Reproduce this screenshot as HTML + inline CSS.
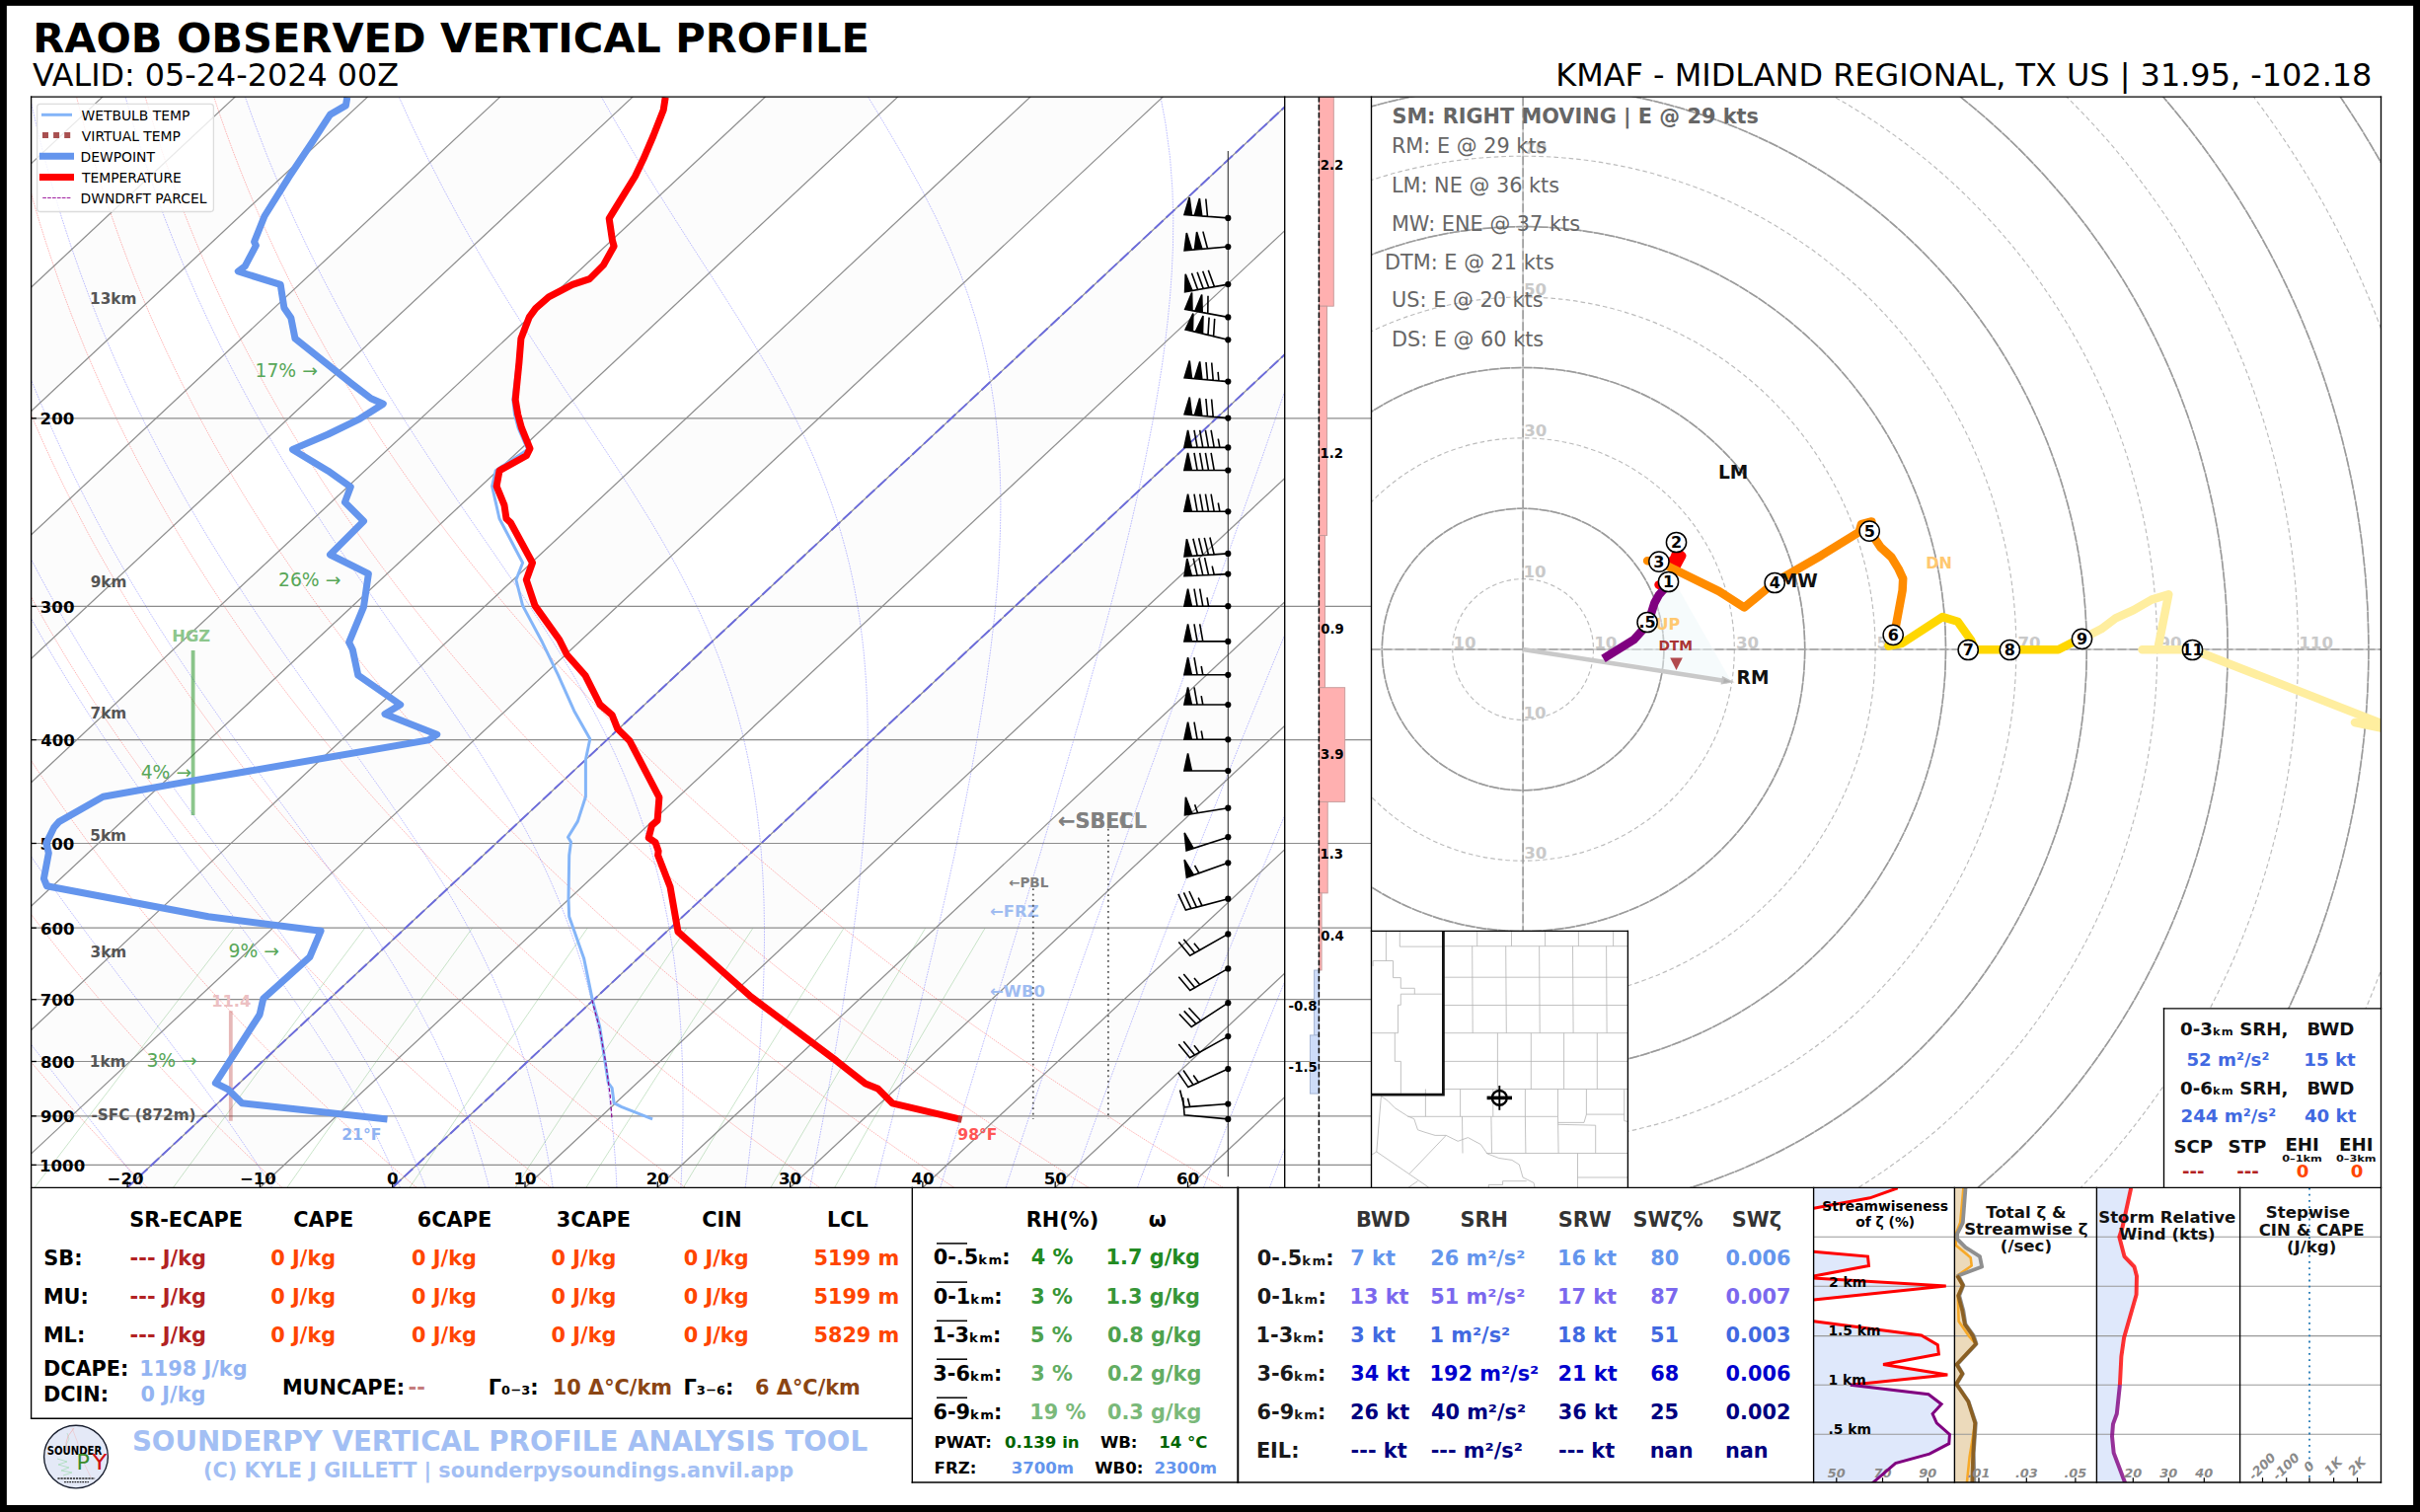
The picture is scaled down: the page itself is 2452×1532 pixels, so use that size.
<!DOCTYPE html>
<html lang="en"><head><meta charset="utf-8"><title>RAOB Observed Vertical Profile</title>
<style>html,body{margin:0;padding:0;background:#000;}svg{display:block;}</style></head>
<body>
<svg width="2452" height="1532" viewBox="0 0 2452 1532" font-family="'DejaVu Sans','Liberation Sans',sans-serif">
<defs>
<clipPath id="cskew"><rect x="31.6" y="97.9" width="1270.1000000000001" height="1105.3999999999999"/></clipPath>
<clipPath id="comega"><rect x="1301.7" y="97.9" width="87.79999999999995" height="1105.3999999999999"/></clipPath>
<clipPath id="chodo"><rect x="1389.5" y="98.3" width="1023.0" height="1105.0"/></clipPath>
<clipPath id="cmap"><rect x="1389.5" y="943.3" width="260" height="260"/></clipPath>
<clipPath id="cp1"><rect x="1837.6" y="1203.5" width="142.80000000000018" height="298.5"/></clipPath>
<clipPath id="cp2"><rect x="1980.4" y="1203.5" width="144.0" height="298.5"/></clipPath>
<clipPath id="cp3"><rect x="2124.4" y="1203.5" width="145.19999999999982" height="298.5"/></clipPath>
<clipPath id="cp4"><rect x="2269.6" y="1203.5" width="142.9000000000001" height="298.5"/></clipPath>
</defs>
<rect x="0" y="0" width="2452" height="1532" fill="#000"/>
<rect x="6.85" y="5.85" width="2438.25" height="1519.15" fill="#fff"/>
<text x="33.2" y="52.8" font-size="41.6" fill="#000" font-weight="bold">RAOB OBSERVED VERTICAL PROFILE</text>
<text x="33.0" y="86.9" font-size="31.8" fill="#000">VALID: 05-24-2024 00Z</text>
<text x="2403.4" y="87.2" font-size="31.92" fill="#000" text-anchor="end">KMAF - MIDLAND REGIONAL, TX US | 31.95, -102.18</text>
<g clip-path="url(#cskew)">
<polygon points="-945.3,1203.3 238.5,97.9 372.8,97.9 -811.0,1203.3" fill="#fcfcfc"/>
<polygon points="-676.7,1203.3 507.1,97.9 641.4,97.9 -542.4,1203.3" fill="#fcfcfc"/>
<polygon points="-408.1,1203.3 775.7,97.9 910.0,97.9 -273.8,1203.3" fill="#fcfcfc"/>
<polygon points="-139.5,1203.3 1044.3,97.9 1178.6,97.9 -5.2,1203.3" fill="#fcfcfc"/>
<polygon points="129.1,1203.3 1312.9,97.9 1447.2,97.9 263.4,1203.3" fill="#fcfcfc"/>
<polygon points="397.7,1203.3 1581.5,97.9 1715.8,97.9 532.0,1203.3" fill="#fcfcfc"/>
<polygon points="666.3,1203.3 1850.1,97.9 1984.4,97.9 800.6,1203.3" fill="#fcfcfc"/>
<polygon points="934.9,1203.3 2118.7,97.9 2253.0,97.9 1069.2,1203.3" fill="#fcfcfc"/>
<polyline points="13.4,1203.3 -3.4,1184.9 -19.9,1166.5 -35.9,1148.0 -51.5,1129.6 -66.8,1111.2 -81.6,1092.8 -96.1,1074.3 -110.1,1055.9 -123.8,1037.5 -137.2,1019.1 -150.1,1000.6 -162.7,982.2 -175.0,963.8 -186.9,945.4 -198.4,926.9 -209.6,908.5 -220.4,890.1 -230.9,871.7 -241.1,853.3 -250.9,834.8 -260.4,816.4 -269.6,798.0 -278.4,779.6 -287.0,761.1 -295.2,742.7 -303.1,724.3 -310.7,705.9 -318.0,687.4 -325.0,669.0 -331.7,650.6 -338.1,632.2 -344.2,613.8 -350.0,595.3 -355.6,576.9 -360.8,558.5 -365.8,540.1 -370.5,521.6 -374.9,503.2 -379.1,484.8 -383.0,466.4 -386.6,447.9 -390.0,429.5 -393.1,411.1 -396.0,392.7 -398.6,374.2 -401.0,355.8 -403.1,337.4 -405.0,319.0 -406.6,300.6 -408.0,282.1 -409.1,263.7 -410.1,245.3 -410.8,226.9 -411.2,208.4 -411.5,190.0 -411.5,171.6 -411.3,153.2 -410.9,134.7 -410.3,116.3 -409.4,97.9" fill="none" stroke="#ff0000" stroke-width="0.8" stroke-opacity="0.36" stroke-dasharray="1.6 0.9"/>
<polyline points="149.6,1203.3 131.2,1184.9 113.3,1166.5 95.8,1148.0 78.7,1129.6 62.0,1111.2 45.7,1092.8 29.9,1074.3 14.4,1055.9 -0.7,1037.5 -15.4,1019.1 -29.7,1000.6 -43.7,982.2 -57.2,963.8 -70.4,945.4 -83.3,926.9 -95.7,908.5 -107.8,890.1 -119.6,871.7 -131.0,853.3 -142.0,834.8 -152.7,816.4 -163.1,798.0 -173.2,779.6 -182.9,761.1 -192.2,742.7 -201.3,724.3 -210.0,705.9 -218.4,687.4 -226.5,669.0 -234.3,650.6 -241.8,632.2 -249.0,613.8 -255.9,595.3 -262.5,576.9 -268.8,558.5 -274.8,540.1 -280.5,521.6 -285.9,503.2 -291.1,484.8 -296.0,466.4 -300.6,447.9 -304.9,429.5 -309.0,411.1 -312.8,392.7 -316.3,374.2 -319.6,355.8 -322.6,337.4 -325.4,319.0 -327.9,300.6 -330.2,282.1 -332.2,263.7 -334.0,245.3 -335.5,226.9 -336.8,208.4 -337.9,190.0 -338.8,171.6 -339.4,153.2 -339.8,134.7 -339.9,116.3 -339.9,97.9" fill="none" stroke="#ff0000" stroke-width="0.8" stroke-opacity="0.36" stroke-dasharray="1.6 0.9"/>
<polyline points="285.8,1203.3 265.9,1184.9 246.5,1166.5 227.5,1148.0 208.9,1129.6 190.8,1111.2 173.1,1092.8 155.8,1074.3 138.9,1055.9 122.4,1037.5 106.3,1019.1 90.7,1000.6 75.4,982.2 60.5,963.8 46.0,945.4 31.9,926.9 18.1,908.5 4.8,890.1 -8.2,871.7 -20.9,853.3 -33.2,834.8 -45.1,816.4 -56.7,798.0 -67.9,779.6 -78.8,761.1 -89.3,742.7 -99.5,724.3 -109.4,705.9 -118.9,687.4 -128.1,669.0 -137.0,650.6 -145.6,632.2 -153.8,613.8 -161.8,595.3 -169.4,576.9 -176.7,558.5 -183.8,540.1 -190.5,521.6 -196.9,503.2 -203.1,484.8 -209.0,466.4 -214.5,447.9 -219.8,429.5 -224.8,411.1 -229.6,392.7 -234.0,374.2 -238.2,355.8 -242.2,337.4 -245.8,319.0 -249.2,300.6 -252.4,282.1 -255.3,263.7 -257.9,245.3 -260.3,226.9 -262.4,208.4 -264.4,190.0 -266.0,171.6 -267.4,153.2 -268.6,134.7 -269.6,116.3 -270.3,97.9" fill="none" stroke="#ff0000" stroke-width="0.8" stroke-opacity="0.36" stroke-dasharray="1.6 0.9"/>
<polyline points="422.0,1203.3 400.6,1184.9 379.6,1166.5 359.2,1148.0 339.1,1129.6 319.6,1111.2 300.4,1092.8 281.7,1074.3 263.4,1055.9 245.6,1037.5 228.1,1019.1 211.1,1000.6 194.5,982.2 178.2,963.8 162.4,945.4 147.0,926.9 132.0,908.5 117.3,890.1 103.1,871.7 89.2,853.3 75.7,834.8 62.6,816.4 49.8,798.0 37.4,779.6 25.3,761.1 13.6,742.7 2.3,724.3 -8.7,705.9 -19.4,687.4 -29.7,669.0 -39.7,650.6 -49.3,632.2 -58.7,613.8 -67.7,595.3 -76.3,576.9 -84.7,558.5 -92.8,540.1 -100.5,521.6 -108.0,503.2 -115.1,484.8 -121.9,466.4 -128.5,447.9 -134.7,429.5 -140.7,411.1 -146.4,392.7 -151.7,374.2 -156.9,355.8 -161.7,337.4 -166.3,319.0 -170.5,300.6 -174.6,282.1 -178.3,263.7 -181.8,245.3 -185.1,226.9 -188.1,208.4 -190.8,190.0 -193.3,171.6 -195.5,153.2 -197.5,134.7 -199.2,116.3 -200.7,97.9" fill="none" stroke="#ff0000" stroke-width="0.8" stroke-opacity="0.36" stroke-dasharray="1.6 0.9"/>
<polyline points="558.1,1203.3 535.2,1184.9 512.8,1166.5 490.9,1148.0 469.4,1129.6 448.3,1111.2 427.8,1092.8 407.6,1074.3 387.9,1055.9 368.7,1037.5 349.9,1019.1 331.5,1000.6 313.5,982.2 296.0,963.8 278.9,945.4 262.1,926.9 245.8,908.5 229.9,890.1 214.4,871.7 199.3,853.3 184.6,834.8 170.2,816.4 156.2,798.0 142.6,779.6 129.4,761.1 116.6,742.7 104.1,724.3 91.9,705.9 80.2,687.4 68.7,669.0 57.7,650.6 46.9,632.2 36.5,613.8 26.5,595.3 16.7,576.9 7.3,558.5 -1.8,540.1 -10.5,521.6 -19.0,503.2 -27.1,484.8 -34.9,466.4 -42.4,447.9 -49.6,429.5 -56.5,411.1 -63.1,392.7 -69.5,374.2 -75.5,355.8 -81.2,337.4 -86.7,319.0 -91.9,300.6 -96.8,282.1 -101.4,263.7 -105.7,245.3 -109.8,226.9 -113.7,208.4 -117.2,190.0 -120.5,171.6 -123.6,153.2 -126.3,134.7 -128.9,116.3 -131.2,97.9" fill="none" stroke="#ff0000" stroke-width="0.8" stroke-opacity="0.36" stroke-dasharray="1.6 0.9"/>
<polyline points="694.3,1203.3 669.9,1184.9 646.0,1166.5 622.5,1148.0 599.6,1129.6 577.1,1111.2 555.1,1092.8 533.5,1074.3 512.4,1055.9 491.8,1037.5 471.6,1019.1 451.9,1000.6 432.6,982.2 413.7,963.8 395.3,945.4 377.3,926.9 359.7,908.5 342.5,890.1 325.7,871.7 309.4,853.3 293.4,834.8 277.9,816.4 262.7,798.0 247.9,779.6 233.5,761.1 219.5,742.7 205.9,724.3 192.6,705.9 179.7,687.4 167.2,669.0 155.0,650.6 143.2,632.2 131.7,613.8 120.6,595.3 109.8,576.9 99.3,558.5 89.2,540.1 79.5,521.6 70.0,503.2 60.9,484.8 52.1,466.4 43.6,447.9 35.5,429.5 27.6,411.1 20.1,392.7 12.8,374.2 5.9,355.8 -0.8,337.4 -7.1,319.0 -13.2,300.6 -19.0,282.1 -24.5,263.7 -29.7,245.3 -34.6,226.9 -39.3,208.4 -43.6,190.0 -47.8,171.6 -51.6,153.2 -55.2,134.7 -58.5,116.3 -61.6,97.9" fill="none" stroke="#ff0000" stroke-width="0.8" stroke-opacity="0.36" stroke-dasharray="1.6 0.9"/>
<polyline points="830.5,1203.3 804.6,1184.9 779.2,1166.5 754.2,1148.0 729.8,1129.6 705.9,1111.2 682.4,1092.8 659.5,1074.3 637.0,1055.9 614.9,1037.5 593.4,1019.1 572.3,1000.6 551.7,982.2 531.5,963.8 511.7,945.4 492.4,926.9 473.5,908.5 455.1,890.1 437.1,871.7 419.5,853.3 402.3,834.8 385.5,816.4 369.1,798.0 353.2,779.6 337.6,761.1 322.4,742.7 307.7,724.3 293.3,705.9 279.2,687.4 265.6,669.0 252.3,650.6 239.4,632.2 226.9,613.8 214.7,595.3 202.9,576.9 191.4,558.5 180.3,540.1 169.5,521.6 159.0,503.2 148.9,484.8 139.1,466.4 129.7,447.9 120.6,429.5 111.8,411.1 103.3,392.7 95.1,374.2 87.2,355.8 79.7,337.4 72.4,319.0 65.5,300.6 58.8,282.1 52.5,263.7 46.4,245.3 40.6,226.9 35.1,208.4 29.9,190.0 25.0,171.6 20.3,153.2 15.9,134.7 11.8,116.3 7.9,97.9" fill="none" stroke="#ff0000" stroke-width="0.8" stroke-opacity="0.36" stroke-dasharray="1.6 0.9"/>
<polyline points="966.7,1203.3 939.2,1184.9 912.3,1166.5 885.9,1148.0 860.0,1129.6 834.6,1111.2 809.8,1092.8 785.4,1074.3 761.5,1055.9 738.1,1037.5 715.1,1019.1 692.7,1000.6 670.7,982.2 649.2,963.8 628.1,945.4 607.5,926.9 587.4,908.5 567.7,890.1 548.4,871.7 529.6,853.3 511.1,834.8 493.2,816.4 475.6,798.0 458.4,779.6 441.7,761.1 425.4,742.7 409.4,724.3 393.9,705.9 378.8,687.4 364.0,669.0 349.6,650.6 335.7,632.2 322.0,613.8 308.8,595.3 295.9,576.9 283.4,558.5 271.3,540.1 259.5,521.6 248.0,503.2 236.9,484.8 226.2,466.4 215.7,447.9 205.7,429.5 195.9,411.1 186.5,392.7 177.4,374.2 168.6,355.8 160.2,337.4 152.0,319.0 144.2,300.6 136.6,282.1 129.4,263.7 122.5,245.3 115.9,226.9 109.5,208.4 103.5,190.0 97.7,171.6 92.3,153.2 87.1,134.7 82.2,116.3 77.5,97.9" fill="none" stroke="#ff0000" stroke-width="0.8" stroke-opacity="0.36" stroke-dasharray="1.6 0.9"/>
<polyline points="1102.9,1203.3 1073.9,1184.9 1045.5,1166.5 1017.6,1148.0 990.2,1129.6 963.4,1111.2 937.1,1092.8 911.3,1074.3 886.0,1055.9 861.2,1037.5 836.9,1019.1 813.1,1000.6 789.8,982.2 766.9,963.8 744.6,945.4 722.7,926.9 701.2,908.5 680.2,890.1 659.7,871.7 639.6,853.3 620.0,834.8 600.8,816.4 582.0,798.0 563.7,779.6 545.8,761.1 528.3,742.7 511.2,724.3 494.6,705.9 478.3,687.4 462.4,669.0 447.0,650.6 431.9,632.2 417.2,613.8 402.9,595.3 389.0,576.9 375.4,558.5 362.3,540.1 349.5,521.6 337.0,503.2 324.9,484.8 313.2,466.4 301.8,447.9 290.8,429.5 280.1,411.1 269.7,392.7 259.7,374.2 250.0,355.8 240.6,337.4 231.6,319.0 222.9,300.6 214.4,282.1 206.4,263.7 198.6,245.3 191.1,226.9 183.9,208.4 177.1,190.0 170.5,171.6 164.2,153.2 158.2,134.7 152.5,116.3 147.1,97.9" fill="none" stroke="#ff0000" stroke-width="0.8" stroke-opacity="0.36" stroke-dasharray="1.6 0.9"/>
<polyline points="1239.1,1203.3 1208.6,1184.9 1178.7,1166.5 1149.3,1148.0 1120.5,1129.6 1092.2,1111.2 1064.4,1092.8 1037.2,1074.3 1010.5,1055.9 984.3,1037.5 958.7,1019.1 933.5,1000.6 908.8,982.2 884.7,963.8 861.0,945.4 837.8,926.9 815.1,908.5 792.8,890.1 771.0,871.7 749.7,853.3 728.9,834.8 708.5,816.4 688.5,798.0 669.0,779.6 649.9,761.1 631.2,742.7 613.0,724.3 595.2,705.9 577.8,687.4 560.9,669.0 544.3,650.6 528.2,632.2 512.4,613.8 497.0,595.3 482.1,576.9 467.5,558.5 453.3,540.1 439.4,521.6 426.0,503.2 412.9,484.8 400.2,466.4 387.8,447.9 375.8,429.5 364.2,411.1 352.9,392.7 342.0,374.2 331.3,355.8 321.1,337.4 311.1,319.0 301.5,300.6 292.3,282.1 283.3,263.7 274.7,245.3 266.3,226.9 258.3,208.4 250.6,190.0 243.2,171.6 236.1,153.2 229.3,134.7 222.8,116.3 216.6,97.9" fill="none" stroke="#ff0000" stroke-width="0.8" stroke-opacity="0.36" stroke-dasharray="1.6 0.9"/>
<polyline points="10.9,1203.3 8.0,1199.7 5.1,1196.1 2.2,1192.4 -0.8,1188.8 -3.8,1185.0 -6.7,1181.3 -9.8,1177.5 -12.8,1173.7 -15.9,1169.9 -18.9,1166.0 -22.0,1162.2 -25.2,1158.2 -28.3,1154.3 -31.5,1150.3 -34.6,1146.2 -37.8,1142.2 -41.1,1138.1 -44.3,1134.0 -47.6,1129.8 -50.9,1125.6 -54.2,1121.3 -57.5,1117.1 -60.8,1112.7 -64.2,1108.4 -67.6,1104.0 -71.0,1099.5 -74.4,1095.0 -77.9,1090.5 -81.3,1085.9 -84.8,1081.3 -88.3,1076.6 -91.8,1071.9 -95.4,1067.2 -98.9,1062.4 -102.5,1057.5 -106.1,1052.6 -109.7,1047.6 -113.3,1042.6 -117.0,1037.5 -120.6,1032.4 -124.3,1027.2 -128.0,1022.0 -131.7,1016.7 -135.5,1011.3 -139.2,1005.9 -143.0,1000.4 -146.8,994.9 -150.6,989.3 -154.4,983.6 -158.2,977.8 -162.1,972.0 -165.9,966.1 -169.8,960.2 -173.7,954.1 -177.6,948.0 -181.5,941.8 -185.5,935.5 -189.4,929.1 -193.4,922.7 -197.4,916.1 -201.4,909.5 -205.4,902.7 -209.4,895.9 -213.4,888.9 -217.5,881.9 -221.6,874.8 -225.6,867.5 -229.7,860.1 -233.8,852.6 -237.9,845.0 -242.0,837.3 -246.2,829.4 -250.3,821.4 -254.5,813.3 -258.6,805.0 -262.8,796.5 -267.0,788.0 -271.1,779.2 -275.3,770.3 -279.5,761.2 -283.7,752.0 -287.9,742.5 -292.1,732.9 -296.3,723.0 -300.5,713.0 -304.7,702.7 -308.9,692.2 -313.1,681.4 -317.3,670.4 -321.5,659.2 -325.6,647.6 -329.8,635.8 -333.9,623.7 -338.0,611.2 -342.1,598.4 -346.2,585.3 -350.2,571.7 -354.2,557.8 -358.1,543.5 -362.0,528.7 -365.8,513.4 -369.6,497.6 -373.3,481.2 -376.9,464.3 -380.3,446.7 -383.7,428.4 -387.0,409.4 -390.1,389.6 -393.0,369.0 -395.7,347.4 -398.2,324.7 -400.4,300.9 -402.3,275.8 -403.9,249.3 -405.0,221.2 -405.6,191.4 -405.6,159.5 -404.9,125.3 -403.8,97.9" fill="none" stroke="#0000ff" stroke-width="0.8" stroke-opacity="0.33" stroke-dasharray="1.7 1.0"/>
<polyline points="144.2,1203.3 141.5,1199.7 138.8,1196.1 136.0,1192.4 133.2,1188.8 130.4,1185.0 127.5,1181.3 124.6,1177.5 121.7,1173.7 118.8,1169.9 115.8,1166.0 112.8,1162.2 109.7,1158.2 106.6,1154.3 103.5,1150.3 100.4,1146.2 97.2,1142.2 94.0,1138.1 90.8,1134.0 87.5,1129.8 84.2,1125.6 80.9,1121.3 77.5,1117.1 74.1,1112.7 70.7,1108.4 67.2,1104.0 63.7,1099.5 60.2,1095.0 56.7,1090.5 53.1,1085.9 49.5,1081.3 45.8,1076.6 42.2,1071.9 38.5,1067.2 34.7,1062.4 31.0,1057.5 27.2,1052.6 23.3,1047.6 19.5,1042.6 15.6,1037.5 11.7,1032.4 7.8,1027.2 3.8,1022.0 -0.2,1016.7 -4.2,1011.3 -8.3,1005.9 -12.3,1000.4 -16.4,994.9 -20.6,989.3 -24.7,983.6 -28.9,977.8 -33.1,972.0 -37.3,966.1 -41.6,960.2 -45.9,954.1 -50.2,948.0 -54.5,941.8 -58.9,935.5 -63.2,929.1 -67.6,922.7 -72.1,916.1 -76.5,909.5 -81.0,902.7 -85.5,895.9 -90.0,888.9 -94.5,881.9 -99.1,874.8 -103.7,867.5 -108.3,860.1 -112.9,852.6 -117.5,845.0 -122.2,837.3 -126.9,829.4 -131.6,821.4 -136.3,813.3 -141.0,805.0 -145.8,796.5 -150.6,788.0 -155.4,779.2 -160.2,770.3 -165.0,761.2 -169.8,752.0 -174.6,742.5 -179.5,732.9 -184.4,723.0 -189.3,713.0 -194.1,702.7 -199.0,692.2 -203.9,681.4 -208.9,670.4 -213.8,659.2 -218.7,647.6 -223.6,635.8 -228.5,623.7 -233.4,611.2 -238.3,598.4 -243.2,585.3 -248.0,571.7 -252.9,557.8 -257.7,543.5 -262.5,528.7 -267.2,513.4 -271.9,497.6 -276.6,481.2 -281.1,464.3 -285.7,446.7 -290.1,428.4 -294.4,409.4 -298.6,389.6 -302.7,369.0 -306.6,347.4 -310.3,324.7 -313.8,300.9 -317.0,275.8 -319.9,249.3 -322.4,221.2 -324.5,191.4 -326.1,159.5 -327.0,125.3 -327.2,97.9" fill="none" stroke="#0000ff" stroke-width="0.8" stroke-opacity="0.33" stroke-dasharray="1.7 1.0"/>
<polyline points="275.6,1203.3 273.4,1199.7 271.1,1196.1 268.8,1192.4 266.5,1188.8 264.1,1185.0 261.7,1181.3 259.3,1177.5 256.8,1173.7 254.2,1169.9 251.7,1166.0 249.1,1162.2 246.4,1158.2 243.7,1154.3 241.0,1150.3 238.2,1146.2 235.4,1142.2 232.5,1138.1 229.6,1134.0 226.7,1129.8 223.7,1125.6 220.6,1121.3 217.5,1117.1 214.4,1112.7 211.2,1108.4 208.0,1104.0 204.7,1099.5 201.4,1095.0 198.1,1090.5 194.7,1085.9 191.2,1081.3 187.7,1076.6 184.1,1071.9 180.5,1067.2 176.9,1062.4 173.2,1057.5 169.5,1052.6 165.7,1047.6 161.8,1042.6 158.0,1037.5 154.0,1032.4 150.1,1027.2 146.0,1022.0 142.0,1016.7 137.9,1011.3 133.7,1005.9 129.5,1000.4 125.2,994.9 120.9,989.3 116.6,983.6 112.2,977.8 107.8,972.0 103.3,966.1 98.8,960.2 94.2,954.1 89.6,948.0 85.0,941.8 80.3,935.5 75.6,929.1 70.8,922.7 66.0,916.1 61.2,909.5 56.3,902.7 51.4,895.9 46.4,888.9 41.4,881.9 36.4,874.8 31.3,867.5 26.2,860.1 21.1,852.6 15.9,845.0 10.7,837.3 5.4,829.4 0.2,821.4 -5.1,813.3 -10.5,805.0 -15.8,796.5 -21.2,788.0 -26.7,779.2 -32.1,770.3 -37.6,761.2 -43.1,752.0 -48.7,742.5 -54.2,732.9 -59.8,723.0 -65.5,713.0 -71.1,702.7 -76.8,692.2 -82.4,681.4 -88.2,670.4 -93.9,659.2 -99.6,647.6 -105.4,635.8 -111.1,623.7 -116.9,611.2 -122.7,598.4 -128.5,585.3 -134.3,571.7 -140.1,557.8 -145.9,543.5 -151.7,528.7 -157.4,513.4 -163.2,497.6 -168.9,481.2 -174.6,464.3 -180.2,446.7 -185.8,428.4 -191.3,409.4 -196.8,389.6 -202.1,369.0 -207.3,347.4 -212.4,324.7 -217.3,300.9 -221.9,275.8 -226.4,249.3 -230.5,221.2 -234.2,191.4 -237.5,159.5 -240.3,125.3 -241.9,97.9" fill="none" stroke="#0000ff" stroke-width="0.8" stroke-opacity="0.33" stroke-dasharray="1.7 1.0"/>
<polyline points="405.4,1203.3 403.9,1199.7 402.3,1196.1 400.7,1192.4 399.1,1188.8 397.5,1185.0 395.8,1181.3 394.1,1177.5 392.4,1173.7 390.6,1169.9 388.8,1166.0 386.9,1162.2 385.0,1158.2 383.0,1154.3 381.0,1150.3 379.0,1146.2 376.9,1142.2 374.8,1138.1 372.6,1134.0 370.4,1129.8 368.1,1125.6 365.8,1121.3 363.5,1117.1 361.0,1112.7 358.6,1108.4 356.0,1104.0 353.5,1099.5 350.8,1095.0 348.1,1090.5 345.4,1085.9 342.6,1081.3 339.7,1076.6 336.8,1071.9 333.8,1067.2 330.7,1062.4 327.6,1057.5 324.4,1052.6 321.2,1047.6 317.9,1042.6 314.5,1037.5 311.0,1032.4 307.5,1027.2 303.9,1022.0 300.3,1016.7 296.5,1011.3 292.7,1005.9 288.9,1000.4 284.9,994.9 280.9,989.3 276.8,983.6 272.6,977.8 268.4,972.0 264.1,966.1 259.7,960.2 255.2,954.1 250.7,948.0 246.1,941.8 241.4,935.5 236.7,929.1 231.8,922.7 226.9,916.1 222.0,909.5 216.9,902.7 211.8,895.9 206.6,888.9 201.4,881.9 196.0,874.8 190.6,867.5 185.2,860.1 179.7,852.6 174.1,845.0 168.4,837.3 162.7,829.4 156.9,821.4 151.1,813.3 145.2,805.0 139.2,796.5 133.2,788.0 127.1,779.2 121.0,770.3 114.8,761.2 108.5,752.0 102.2,742.5 95.9,732.9 89.5,723.0 83.1,713.0 76.6,702.7 70.0,692.2 63.5,681.4 56.8,670.4 50.2,659.2 43.5,647.6 36.7,635.8 29.9,623.7 23.1,611.2 16.3,598.4 9.4,585.3 2.5,571.7 -4.5,557.8 -11.4,543.5 -18.4,528.7 -25.4,513.4 -32.4,497.6 -39.4,481.2 -46.4,464.3 -53.4,446.7 -60.4,428.4 -67.3,409.4 -74.3,389.6 -81.1,369.0 -87.9,347.4 -94.6,324.7 -101.2,300.9 -107.6,275.8 -113.9,249.3 -119.9,221.2 -125.6,191.4 -131.0,159.5 -135.9,125.3 -139.2,97.9" fill="none" stroke="#0000ff" stroke-width="0.8" stroke-opacity="0.33" stroke-dasharray="1.7 1.0"/>
<polyline points="431.2,1203.3 429.8,1199.7 428.5,1196.1 427.1,1192.4 425.6,1188.8 424.1,1185.0 422.6,1181.3 421.1,1177.5 419.5,1173.7 417.9,1169.9 416.3,1166.0 414.6,1162.2 412.9,1158.2 411.1,1154.3 409.3,1150.3 407.4,1146.2 405.5,1142.2 403.6,1138.1 401.6,1134.0 399.6,1129.8 397.5,1125.6 395.4,1121.3 393.2,1117.1 391.0,1112.7 388.7,1108.4 386.4,1104.0 384.0,1099.5 381.6,1095.0 379.1,1090.5 376.5,1085.9 373.9,1081.3 371.3,1076.6 368.5,1071.9 365.7,1067.2 362.9,1062.4 359.9,1057.5 357.0,1052.6 353.9,1047.6 350.8,1042.6 347.6,1037.5 344.3,1032.4 341.0,1027.2 337.6,1022.0 334.1,1016.7 330.5,1011.3 326.9,1005.9 323.2,1000.4 319.4,994.9 315.5,989.3 311.6,983.6 307.5,977.8 303.4,972.0 299.2,966.1 295.0,960.2 290.6,954.1 286.2,948.0 281.7,941.8 277.1,935.5 272.4,929.1 267.7,922.7 262.8,916.1 257.9,909.5 252.9,902.7 247.8,895.9 242.6,888.9 237.4,881.9 232.1,874.8 226.7,867.5 221.2,860.1 215.7,852.6 210.0,845.0 204.3,837.3 198.6,829.4 192.7,821.4 186.8,813.3 180.8,805.0 174.7,796.5 168.6,788.0 162.4,779.2 156.2,770.3 149.9,761.2 143.5,752.0 137.0,742.5 130.5,732.9 124.0,723.0 117.4,713.0 110.7,702.7 104.0,692.2 97.2,681.4 90.4,670.4 83.5,659.2 76.6,647.6 69.6,635.8 62.6,623.7 55.6,611.2 48.5,598.4 41.4,585.3 34.2,571.7 27.0,557.8 19.8,543.5 12.5,528.7 5.2,513.4 -2.0,497.6 -9.4,481.2 -16.7,464.3 -24.0,446.7 -31.3,428.4 -38.6,409.4 -45.8,389.6 -53.0,369.0 -60.2,347.4 -67.3,324.7 -74.2,300.9 -81.1,275.8 -87.7,249.3 -94.2,221.2 -100.4,191.4 -106.3,159.5 -111.7,125.3 -115.4,97.9" fill="none" stroke="#0000ff" stroke-width="0.8" stroke-opacity="0.33" stroke-dasharray="1.7 1.0"/>
<polyline points="495.7,1203.3 494.7,1199.7 493.8,1196.1 492.8,1192.4 491.8,1188.8 490.8,1185.0 489.7,1181.3 488.6,1177.5 487.5,1173.7 486.3,1169.9 485.1,1166.0 483.9,1162.2 482.7,1158.2 481.4,1154.3 480.1,1150.3 478.7,1146.2 477.3,1142.2 475.9,1138.1 474.4,1134.0 472.9,1129.8 471.4,1125.6 469.8,1121.3 468.1,1117.1 466.5,1112.7 464.7,1108.4 463.0,1104.0 461.1,1099.5 459.3,1095.0 457.3,1090.5 455.4,1085.9 453.3,1081.3 451.2,1076.6 449.1,1071.9 446.9,1067.2 444.6,1062.4 442.3,1057.5 439.9,1052.6 437.4,1047.6 434.9,1042.6 432.3,1037.5 429.6,1032.4 426.9,1027.2 424.1,1022.0 421.2,1016.7 418.2,1011.3 415.1,1005.9 412.0,1000.4 408.8,994.9 405.5,989.3 402.1,983.6 398.6,977.8 395.0,972.0 391.3,966.1 387.5,960.2 383.7,954.1 379.7,948.0 375.6,941.8 371.5,935.5 367.2,929.1 362.8,922.7 358.4,916.1 353.8,909.5 349.1,902.7 344.3,895.9 339.4,888.9 334.4,881.9 329.3,874.8 324.0,867.5 318.7,860.1 313.3,852.6 307.7,845.0 302.1,837.3 296.3,829.4 290.5,821.4 284.5,813.3 278.4,805.0 272.3,796.5 266.0,788.0 259.6,779.2 253.2,770.3 246.6,761.2 240.0,752.0 233.2,742.5 226.4,732.9 219.5,723.0 212.5,713.0 205.4,702.7 198.2,692.2 191.0,681.4 183.6,670.4 176.2,659.2 168.8,647.6 161.2,635.8 153.6,623.7 146.0,611.2 138.2,598.4 130.4,585.3 122.6,571.7 114.7,557.8 106.7,543.5 98.7,528.7 90.7,513.4 82.6,497.6 74.5,481.2 66.3,464.3 58.1,446.7 49.9,428.4 41.7,409.4 33.5,389.6 25.3,369.0 17.1,347.4 9.0,324.7 0.9,300.9 -7.1,275.8 -14.9,249.3 -22.6,221.2 -30.1,191.4 -37.3,159.5 -44.1,125.3 -49.0,97.9" fill="none" stroke="#0000ff" stroke-width="0.8" stroke-opacity="0.33" stroke-dasharray="1.7 1.0"/>
<polyline points="560.2,1203.3 559.7,1199.7 559.1,1196.1 558.6,1192.4 558.0,1188.8 557.4,1185.0 556.7,1181.3 556.1,1177.5 555.4,1173.7 554.7,1169.9 554.0,1166.0 553.2,1162.2 552.5,1158.2 551.7,1154.3 550.9,1150.3 550.0,1146.2 549.1,1142.2 548.2,1138.1 547.3,1134.0 546.3,1129.8 545.3,1125.6 544.3,1121.3 543.3,1117.1 542.2,1112.7 541.0,1108.4 539.9,1104.0 538.6,1099.5 537.4,1095.0 536.1,1090.5 534.8,1085.9 533.4,1081.3 532.0,1076.6 530.5,1071.9 529.0,1067.2 527.4,1062.4 525.7,1057.5 524.1,1052.6 522.3,1047.6 520.5,1042.6 518.7,1037.5 516.7,1032.4 514.8,1027.2 512.7,1022.0 510.6,1016.7 508.4,1011.3 506.1,1005.9 503.7,1000.4 501.3,994.9 498.8,989.3 496.2,983.6 493.5,977.8 490.7,972.0 487.9,966.1 484.9,960.2 481.8,954.1 478.7,948.0 475.4,941.8 472.0,935.5 468.5,929.1 464.9,922.7 461.2,916.1 457.3,909.5 453.4,902.7 449.3,895.9 445.0,888.9 440.7,881.9 436.2,874.8 431.6,867.5 426.8,860.1 421.9,852.6 416.8,845.0 411.6,837.3 406.3,829.4 400.8,821.4 395.2,813.3 389.4,805.0 383.5,796.5 377.4,788.0 371.2,779.2 364.8,770.3 358.3,761.2 351.6,752.0 344.8,742.5 337.9,732.9 330.8,723.0 323.6,713.0 316.2,702.7 308.8,692.2 301.2,681.4 293.4,670.4 285.6,659.2 277.6,647.6 269.5,635.8 261.3,623.7 253.0,611.2 244.7,598.4 236.2,585.3 227.6,571.7 218.9,557.8 210.1,543.5 201.3,528.7 192.3,513.4 183.3,497.6 174.2,481.2 165.1,464.3 155.9,446.7 146.6,428.4 137.3,409.4 128.0,389.6 118.6,369.0 109.2,347.4 99.8,324.7 90.5,300.9 81.2,275.8 71.9,249.3 62.7,221.2 53.7,191.4 44.9,159.5 36.4,125.3 30.2,97.9" fill="none" stroke="#0000ff" stroke-width="0.8" stroke-opacity="0.33" stroke-dasharray="1.7 1.0"/>
<polyline points="624.9,1203.3 624.8,1199.7 624.6,1196.1 624.4,1192.4 624.2,1188.8 624.0,1185.0 623.8,1181.3 623.5,1177.5 623.3,1173.7 623.0,1169.9 622.7,1166.0 622.4,1162.2 622.1,1158.2 621.8,1154.3 621.5,1150.3 621.1,1146.2 620.7,1142.2 620.3,1138.1 619.9,1134.0 619.5,1129.8 619.0,1125.6 618.5,1121.3 618.0,1117.1 617.5,1112.7 616.9,1108.4 616.4,1104.0 615.8,1099.5 615.1,1095.0 614.5,1090.5 613.8,1085.9 613.0,1081.3 612.3,1076.6 611.5,1071.9 610.7,1067.2 609.8,1062.4 608.9,1057.5 608.0,1052.6 607.0,1047.6 606.0,1042.6 604.9,1037.5 603.8,1032.4 602.6,1027.2 601.4,1022.0 600.1,1016.7 598.8,1011.3 597.4,1005.9 596.0,1000.4 594.5,994.9 592.9,989.3 591.3,983.6 589.6,977.8 587.8,972.0 585.9,966.1 584.0,960.2 581.9,954.1 579.8,948.0 577.6,941.8 575.3,935.5 572.9,929.1 570.4,922.7 567.8,916.1 565.1,909.5 562.2,902.7 559.3,895.9 556.2,888.9 553.0,881.9 549.6,874.8 546.1,867.5 542.5,860.1 538.7,852.6 534.7,845.0 530.6,837.3 526.3,829.4 521.8,821.4 517.2,813.3 512.3,805.0 507.3,796.5 502.1,788.0 496.7,779.2 491.0,770.3 485.2,761.2 479.2,752.0 473.0,742.5 466.5,732.9 459.8,723.0 453.0,713.0 445.9,702.7 438.6,692.2 431.1,681.4 423.3,670.4 415.4,659.2 407.3,647.6 398.9,635.8 390.4,623.7 381.7,611.2 372.8,598.4 363.7,585.3 354.5,571.7 345.1,557.8 335.5,543.5 325.8,528.7 315.9,513.4 305.9,497.6 295.8,481.2 285.5,464.3 275.1,446.7 264.6,428.4 254.1,409.4 243.4,389.6 232.6,369.0 221.8,347.4 210.9,324.7 199.9,300.9 189.0,275.8 178.0,249.3 167.0,221.2 156.2,191.4 145.4,159.5 134.8,125.3 127.0,97.9" fill="none" stroke="#0000ff" stroke-width="0.8" stroke-opacity="0.33" stroke-dasharray="1.7 1.0"/>
<polyline points="689.9,1203.3 690.1,1199.7 690.2,1196.1 690.4,1192.4 690.5,1188.8 690.7,1185.0 690.8,1181.3 691.0,1177.5 691.1,1173.7 691.2,1169.9 691.3,1166.0 691.4,1162.2 691.5,1158.2 691.6,1154.3 691.7,1150.3 691.8,1146.2 691.9,1142.2 691.9,1138.1 692.0,1134.0 692.0,1129.8 692.0,1125.6 692.0,1121.3 692.0,1117.1 692.0,1112.7 692.0,1108.4 691.9,1104.0 691.9,1099.5 691.8,1095.0 691.7,1090.5 691.6,1085.9 691.5,1081.3 691.4,1076.6 691.2,1071.9 691.0,1067.2 690.8,1062.4 690.6,1057.5 690.4,1052.6 690.1,1047.6 689.8,1042.6 689.5,1037.5 689.1,1032.4 688.7,1027.2 688.3,1022.0 687.9,1016.7 687.4,1011.3 686.9,1005.9 686.3,1000.4 685.8,994.9 685.1,989.3 684.4,983.6 683.7,977.8 683.0,972.0 682.1,966.1 681.3,960.2 680.3,954.1 679.3,948.0 678.3,941.8 677.2,935.5 676.0,929.1 674.7,922.7 673.4,916.1 672.0,909.5 670.5,902.7 668.9,895.9 667.2,888.9 665.4,881.9 663.5,874.8 661.5,867.5 659.4,860.1 657.1,852.6 654.7,845.0 652.2,837.3 649.5,829.4 646.7,821.4 643.7,813.3 640.6,805.0 637.2,796.5 633.7,788.0 630.0,779.2 626.0,770.3 621.9,761.2 617.5,752.0 612.8,742.5 607.9,732.9 602.8,723.0 597.3,713.0 591.6,702.7 585.6,692.2 579.3,681.4 572.7,670.4 565.8,659.2 558.5,647.6 550.9,635.8 543.0,623.7 534.7,611.2 526.2,598.4 517.3,585.3 508.0,571.7 498.5,557.8 488.6,543.5 478.4,528.7 467.9,513.4 457.2,497.6 446.2,481.2 434.9,464.3 423.4,446.7 411.6,428.4 399.6,409.4 387.4,389.6 375.1,369.0 362.5,347.4 349.8,324.7 337.0,300.9 324.0,275.8 310.9,249.3 297.7,221.2 284.5,191.4 271.3,159.5 258.1,125.3 248.3,97.9" fill="none" stroke="#0000ff" stroke-width="0.8" stroke-opacity="0.33" stroke-dasharray="1.7 1.0"/>
<polyline points="755.1,1203.3 755.6,1199.7 756.1,1196.1 756.5,1192.4 757.0,1188.8 757.4,1185.0 757.9,1181.3 758.4,1177.5 758.8,1173.7 759.3,1169.9 759.7,1166.0 760.2,1162.2 760.6,1158.2 761.1,1154.3 761.5,1150.3 762.0,1146.2 762.4,1142.2 762.9,1138.1 763.3,1134.0 763.8,1129.8 764.2,1125.6 764.6,1121.3 765.1,1117.1 765.5,1112.7 765.9,1108.4 766.3,1104.0 766.7,1099.5 767.2,1095.0 767.6,1090.5 768.0,1085.9 768.4,1081.3 768.7,1076.6 769.1,1071.9 769.5,1067.2 769.9,1062.4 770.2,1057.5 770.6,1052.6 770.9,1047.6 771.2,1042.6 771.5,1037.5 771.9,1032.4 772.2,1027.2 772.4,1022.0 772.7,1016.7 773.0,1011.3 773.2,1005.9 773.4,1000.4 773.6,994.9 773.8,989.3 774.0,983.6 774.1,977.8 774.2,972.0 774.3,966.1 774.4,960.2 774.5,954.1 774.5,948.0 774.5,941.8 774.4,935.5 774.3,929.1 774.2,922.7 774.1,916.1 773.9,909.5 773.6,902.7 773.3,895.9 773.0,888.9 772.6,881.9 772.1,874.8 771.6,867.5 771.0,860.1 770.3,852.6 769.6,845.0 768.7,837.3 767.8,829.4 766.8,821.4 765.7,813.3 764.5,805.0 763.1,796.5 761.7,788.0 760.1,779.2 758.3,770.3 756.4,761.2 754.3,752.0 752.1,742.5 749.6,732.9 747.0,723.0 744.1,713.0 740.9,702.7 737.5,692.2 733.8,681.4 729.9,670.4 725.5,659.2 720.9,647.6 715.9,635.8 710.5,623.7 704.6,611.2 698.3,598.4 691.6,585.3 684.4,571.7 676.6,557.8 668.4,543.5 659.6,528.7 650.2,513.4 640.3,497.6 629.8,481.2 618.7,464.3 607.1,446.7 595.0,428.4 582.3,409.4 569.1,389.6 555.5,369.0 541.4,347.4 526.9,324.7 512.0,300.9 496.7,275.8 481.2,249.3 465.3,221.2 449.3,191.4 433.0,159.5 416.5,125.3 404.1,97.9" fill="none" stroke="#0000ff" stroke-width="0.8" stroke-opacity="0.33" stroke-dasharray="1.7 1.0"/>
<polyline points="820.7,1203.3 821.4,1199.7 822.1,1196.1 822.8,1192.4 823.5,1188.8 824.3,1185.0 825.0,1181.3 825.7,1177.5 826.4,1173.7 827.2,1169.9 827.9,1166.0 828.6,1162.2 829.4,1158.2 830.1,1154.3 830.9,1150.3 831.6,1146.2 832.4,1142.2 833.2,1138.1 833.9,1134.0 834.7,1129.8 835.5,1125.6 836.3,1121.3 837.1,1117.1 837.8,1112.7 838.6,1108.4 839.4,1104.0 840.2,1099.5 841.0,1095.0 841.8,1090.5 842.6,1085.9 843.4,1081.3 844.3,1076.6 845.1,1071.9 845.9,1067.2 846.7,1062.4 847.5,1057.5 848.4,1052.6 849.2,1047.6 850.0,1042.6 850.9,1037.5 851.7,1032.4 852.5,1027.2 853.4,1022.0 854.2,1016.7 855.1,1011.3 855.9,1005.9 856.7,1000.4 857.6,994.9 858.4,989.3 859.3,983.6 860.1,977.8 860.9,972.0 861.7,966.1 862.6,960.2 863.4,954.1 864.2,948.0 865.0,941.8 865.8,935.5 866.6,929.1 867.4,922.7 868.2,916.1 869.0,909.5 869.7,902.7 870.5,895.9 871.2,888.9 871.9,881.9 872.6,874.8 873.3,867.5 874.0,860.1 874.6,852.6 875.2,845.0 875.8,837.3 876.4,829.4 876.9,821.4 877.3,813.3 877.8,805.0 878.2,796.5 878.5,788.0 878.8,779.2 879.0,770.3 879.1,761.2 879.2,752.0 879.2,742.5 879.1,732.9 878.9,723.0 878.6,713.0 878.2,702.7 877.6,692.2 876.9,681.4 876.0,670.4 875.0,659.2 873.7,647.6 872.2,635.8 870.5,623.7 868.5,611.2 866.2,598.4 863.6,585.3 860.6,571.7 857.1,557.8 853.2,543.5 848.8,528.7 843.8,513.4 838.2,497.6 831.9,481.2 824.9,464.3 817.0,446.7 808.2,428.4 798.5,409.4 787.8,389.6 776.1,369.0 763.2,347.4 749.3,324.7 734.3,300.9 718.3,275.8 701.2,249.3 683.3,221.2 664.5,191.4 644.9,159.5 624.7,125.3 609.2,97.9" fill="none" stroke="#0000ff" stroke-width="0.8" stroke-opacity="0.33" stroke-dasharray="1.7 1.0"/>
<polyline points="886.6,1203.3 887.5,1199.7 888.4,1196.1 889.3,1192.4 890.2,1188.8 891.1,1185.0 892.1,1181.3 893.0,1177.5 894.0,1173.7 894.9,1169.9 895.9,1166.0 896.9,1162.2 897.8,1158.2 898.8,1154.3 899.8,1150.3 900.8,1146.2 901.8,1142.2 902.8,1138.1 903.9,1134.0 904.9,1129.8 905.9,1125.6 907.0,1121.3 908.1,1117.1 909.1,1112.7 910.2,1108.4 911.3,1104.0 912.4,1099.5 913.5,1095.0 914.6,1090.5 915.8,1085.9 916.9,1081.3 918.0,1076.6 919.2,1071.9 920.4,1067.2 921.5,1062.4 922.7,1057.5 923.9,1052.6 925.1,1047.6 926.3,1042.6 927.6,1037.5 928.8,1032.4 930.1,1027.2 931.3,1022.0 932.6,1016.7 933.9,1011.3 935.2,1005.9 936.5,1000.4 937.8,994.9 939.1,989.3 940.5,983.6 941.8,977.8 943.2,972.0 944.6,966.1 946.0,960.2 947.4,954.1 948.8,948.0 950.2,941.8 951.7,935.5 953.1,929.1 954.6,922.7 956.1,916.1 957.6,909.5 959.1,902.7 960.6,895.9 962.1,888.9 963.6,881.9 965.2,874.8 966.8,867.5 968.3,860.1 969.9,852.6 971.5,845.0 973.1,837.3 974.7,829.4 976.3,821.4 978.0,813.3 979.6,805.0 981.2,796.5 982.9,788.0 984.5,779.2 986.1,770.3 987.8,761.2 989.4,752.0 991.1,742.5 992.7,732.9 994.3,723.0 995.9,713.0 997.5,702.7 999.1,692.2 1000.6,681.4 1002.1,670.4 1003.6,659.2 1005.0,647.6 1006.4,635.8 1007.7,623.7 1008.9,611.2 1010.0,598.4 1011.1,585.3 1012.0,571.7 1012.7,557.8 1013.3,543.5 1013.7,528.7 1013.9,513.4 1013.8,497.6 1013.3,481.2 1012.5,464.3 1011.3,446.7 1009.5,428.4 1007.2,409.4 1004.1,389.6 1000.1,369.0 995.2,347.4 989.1,324.7 981.6,300.9 972.6,275.8 961.7,249.3 948.7,221.2 933.6,191.4 916.0,159.5 896.0,125.3 879.4,97.9" fill="none" stroke="#0000ff" stroke-width="0.8" stroke-opacity="0.33" stroke-dasharray="1.7 1.0"/>
<polyline points="952.7,1203.3 953.8,1199.7 954.9,1196.1 955.9,1192.4 957.0,1188.8 958.1,1185.0 959.2,1181.3 960.3,1177.5 961.4,1173.7 962.5,1169.9 963.7,1166.0 964.8,1162.2 966.0,1158.2 967.2,1154.3 968.3,1150.3 969.5,1146.2 970.7,1142.2 971.9,1138.1 973.2,1134.0 974.4,1129.8 975.7,1125.6 976.9,1121.3 978.2,1117.1 979.5,1112.7 980.8,1108.4 982.1,1104.0 983.4,1099.5 984.8,1095.0 986.1,1090.5 987.5,1085.9 988.9,1081.3 990.3,1076.6 991.7,1071.9 993.1,1067.2 994.6,1062.4 996.0,1057.5 997.5,1052.6 999.0,1047.6 1000.5,1042.6 1002.0,1037.5 1003.6,1032.4 1005.1,1027.2 1006.7,1022.0 1008.3,1016.7 1009.9,1011.3 1011.5,1005.9 1013.2,1000.4 1014.9,994.9 1016.6,989.3 1018.3,983.6 1020.0,977.8 1021.8,972.0 1023.5,966.1 1025.3,960.2 1027.2,954.1 1029.0,948.0 1030.9,941.8 1032.8,935.5 1034.7,929.1 1036.6,922.7 1038.6,916.1 1040.6,909.5 1042.6,902.7 1044.7,895.9 1046.8,888.9 1048.9,881.9 1051.0,874.8 1053.2,867.5 1055.4,860.1 1057.6,852.6 1059.9,845.0 1062.2,837.3 1064.5,829.4 1066.9,821.4 1069.3,813.3 1071.7,805.0 1074.2,796.5 1076.7,788.0 1079.3,779.2 1081.9,770.3 1084.5,761.2 1087.2,752.0 1089.9,742.5 1092.7,732.9 1095.5,723.0 1098.3,713.0 1101.2,702.7 1104.1,692.2 1107.1,681.4 1110.2,670.4 1113.2,659.2 1116.4,647.6 1119.6,635.8 1122.8,623.7 1126.0,611.2 1129.4,598.4 1132.7,585.3 1136.1,571.7 1139.5,557.8 1143.0,543.5 1146.5,528.7 1150.0,513.4 1153.6,497.6 1157.1,481.2 1160.7,464.3 1164.2,446.7 1167.7,428.4 1171.1,409.4 1174.4,389.6 1177.6,369.0 1180.5,347.4 1183.2,324.7 1185.5,300.9 1187.3,275.8 1188.5,249.3 1188.8,221.2 1187.9,191.4 1185.5,159.5 1181.0,125.3 1175.9,97.9" fill="none" stroke="#0000ff" stroke-width="0.8" stroke-opacity="0.33" stroke-dasharray="1.7 1.0"/>
<polyline points="1019.1,1203.3 1020.3,1199.7 1021.5,1196.1 1022.7,1192.4 1023.9,1188.8 1025.1,1185.0 1026.3,1181.3 1027.5,1177.5 1028.8,1173.7 1030.0,1169.9 1031.3,1166.0 1032.6,1162.2 1033.9,1158.2 1035.2,1154.3 1036.5,1150.3 1037.9,1146.2 1039.2,1142.2 1040.6,1138.1 1041.9,1134.0 1043.3,1129.8 1044.7,1125.6 1046.2,1121.3 1047.6,1117.1 1049.0,1112.7 1050.5,1108.4 1052.0,1104.0 1053.5,1099.5 1055.0,1095.0 1056.5,1090.5 1058.1,1085.9 1059.6,1081.3 1061.2,1076.6 1062.8,1071.9 1064.4,1067.2 1066.1,1062.4 1067.7,1057.5 1069.4,1052.6 1071.1,1047.6 1072.8,1042.6 1074.6,1037.5 1076.3,1032.4 1078.1,1027.2 1079.9,1022.0 1081.7,1016.7 1083.6,1011.3 1085.5,1005.9 1087.4,1000.4 1089.3,994.9 1091.2,989.3 1093.2,983.6 1095.2,977.8 1097.2,972.0 1099.3,966.1 1101.4,960.2 1103.5,954.1 1105.7,948.0 1107.8,941.8 1110.0,935.5 1112.3,929.1 1114.6,922.7 1116.9,916.1 1119.2,909.5 1121.6,902.7 1124.0,895.9 1126.5,888.9 1129.0,881.9 1131.5,874.8 1134.1,867.5 1136.8,860.1 1139.4,852.6 1142.1,845.0 1144.9,837.3 1147.7,829.4 1150.6,821.4 1153.5,813.3 1156.5,805.0 1159.5,796.5 1162.6,788.0 1165.7,779.2 1169.0,770.3 1172.2,761.2 1175.6,752.0 1179.0,742.5 1182.4,732.9 1186.0,723.0 1189.6,713.0 1193.3,702.7 1197.1,692.2 1201.0,681.4 1205.0,670.4 1209.0,659.2 1213.2,647.6 1217.5,635.8 1221.8,623.7 1226.3,611.2 1230.9,598.4 1235.6,585.3 1240.5,571.7 1245.4,557.8 1250.6,543.5 1255.8,528.7 1261.2,513.4 1266.8,497.6 1272.5,481.2 1278.5,464.3 1284.6,446.7 1290.9,428.4 1297.3,409.4 1304.1,389.6 1311.0,369.0 1318.1,347.4 1325.5,324.7 1333.2,300.9 1341.0,275.8 1349.1,249.3 1357.4,221.2 1366.0,191.4 1374.6,159.5 1383.4,125.3 1389.9,97.9" fill="none" stroke="#0000ff" stroke-width="0.8" stroke-opacity="0.33" stroke-dasharray="1.7 1.0"/>
<polyline points="1085.7,1203.3 1087.0,1199.7 1088.3,1196.1 1089.5,1192.4 1090.8,1188.8 1092.1,1185.0 1093.4,1181.3 1094.8,1177.5 1096.1,1173.7 1097.5,1169.9 1098.8,1166.0 1100.2,1162.2 1101.6,1158.2 1103.0,1154.3 1104.4,1150.3 1105.9,1146.2 1107.3,1142.2 1108.8,1138.1 1110.3,1134.0 1111.8,1129.8 1113.3,1125.6 1114.8,1121.3 1116.4,1117.1 1117.9,1112.7 1119.5,1108.4 1121.1,1104.0 1122.7,1099.5 1124.3,1095.0 1126.0,1090.5 1127.7,1085.9 1129.4,1081.3 1131.1,1076.6 1132.8,1071.9 1134.6,1067.2 1136.3,1062.4 1138.1,1057.5 1140.0,1052.6 1141.8,1047.6 1143.7,1042.6 1145.6,1037.5 1147.5,1032.4 1149.4,1027.2 1151.4,1022.0 1153.4,1016.7 1155.4,1011.3 1157.4,1005.9 1159.5,1000.4 1161.6,994.9 1163.7,989.3 1165.9,983.6 1168.1,977.8 1170.3,972.0 1172.5,966.1 1174.8,960.2 1177.1,954.1 1179.5,948.0 1181.9,941.8 1184.3,935.5 1186.8,929.1 1189.3,922.7 1191.8,916.1 1194.4,909.5 1197.0,902.7 1199.7,895.9 1202.4,888.9 1205.2,881.9 1208.0,874.8 1210.9,867.5 1213.8,860.1 1216.7,852.6 1219.7,845.0 1222.8,837.3 1226.0,829.4 1229.1,821.4 1232.4,813.3 1235.7,805.0 1239.1,796.5 1242.6,788.0 1246.1,779.2 1249.7,770.3 1253.4,761.2 1257.1,752.0 1261.0,742.5 1264.9,732.9 1268.9,723.0 1273.0,713.0 1277.3,702.7 1281.6,692.2 1286.0,681.4 1290.5,670.4 1295.2,659.2 1300.0,647.6 1304.9,635.8 1309.9,623.7 1315.1,611.2 1320.5,598.4 1326.0,585.3 1331.7,571.7 1337.5,557.8 1343.6,543.5 1349.8,528.7 1356.3,513.4 1363.0,497.6 1369.9,481.2 1377.1,464.3 1384.6,446.7 1392.4,428.4 1400.5,409.4 1409.0,389.6 1417.8,369.0 1427.0,347.4 1436.7,324.7 1446.9,300.9 1457.6,275.8 1468.9,249.3 1480.8,221.2 1493.5,191.4 1507.0,159.5 1521.3,125.3 1532.8,97.9" fill="none" stroke="#0000ff" stroke-width="0.8" stroke-opacity="0.33" stroke-dasharray="1.7 1.0"/>
<polyline points="1152.5,1203.3 1153.8,1199.7 1155.1,1196.1 1156.5,1192.4 1157.8,1188.8 1159.2,1185.0 1160.6,1181.3 1162.0,1177.5 1163.4,1173.7 1164.8,1169.9 1166.2,1166.0 1167.7,1162.2 1169.1,1158.2 1170.6,1154.3 1172.1,1150.3 1173.6,1146.2 1175.1,1142.2 1176.7,1138.1 1178.2,1134.0 1179.8,1129.8 1181.4,1125.6 1183.0,1121.3 1184.6,1117.1 1186.3,1112.7 1187.9,1108.4 1189.6,1104.0 1191.3,1099.5 1193.0,1095.0 1194.8,1090.5 1196.5,1085.9 1198.3,1081.3 1200.1,1076.6 1201.9,1071.9 1203.8,1067.2 1205.6,1062.4 1207.5,1057.5 1209.4,1052.6 1211.4,1047.6 1213.3,1042.6 1215.3,1037.5 1217.3,1032.4 1219.4,1027.2 1221.5,1022.0 1223.6,1016.7 1225.7,1011.3 1227.8,1005.9 1230.0,1000.4 1232.2,994.9 1234.5,989.3 1236.8,983.6 1239.1,977.8 1241.4,972.0 1243.8,966.1 1246.2,960.2 1248.7,954.1 1251.2,948.0 1253.7,941.8 1256.2,935.5 1258.9,929.1 1261.5,922.7 1264.2,916.1 1266.9,909.5 1269.7,902.7 1272.6,895.9 1275.4,888.9 1278.4,881.9 1281.4,874.8 1284.4,867.5 1287.5,860.1 1290.6,852.6 1293.8,845.0 1297.1,837.3 1300.4,829.4 1303.8,821.4 1307.3,813.3 1310.9,805.0 1314.5,796.5 1318.2,788.0 1321.9,779.2 1325.8,770.3 1329.7,761.2 1333.7,752.0 1337.8,742.5 1342.0,732.9 1346.4,723.0 1350.8,713.0 1355.3,702.7 1359.9,692.2 1364.7,681.4 1369.6,670.4 1374.6,659.2 1379.8,647.6 1385.1,635.8 1390.5,623.7 1396.1,611.2 1401.9,598.4 1407.9,585.3 1414.1,571.7 1420.4,557.8 1427.0,543.5 1433.9,528.7 1440.9,513.4 1448.2,497.6 1455.9,481.2 1463.8,464.3 1472.0,446.7 1480.6,428.4 1489.6,409.4 1498.9,389.6 1508.8,369.0 1519.1,347.4 1530.0,324.7 1541.4,300.9 1553.6,275.8 1566.4,249.3 1580.1,221.2 1594.7,191.4 1610.3,159.5 1627.2,125.3 1640.7,97.9" fill="none" stroke="#0000ff" stroke-width="0.8" stroke-opacity="0.33" stroke-dasharray="1.7 1.0"/>
<polyline points="1219.4,1203.3 1220.8,1199.7 1222.1,1196.1 1223.5,1192.4 1224.9,1188.8 1226.3,1185.0 1227.7,1181.3 1229.1,1177.5 1230.6,1173.7 1232.0,1169.9 1233.5,1166.0 1235.0,1162.2 1236.5,1158.2 1238.0,1154.3 1239.6,1150.3 1241.1,1146.2 1242.7,1142.2 1244.3,1138.1 1245.9,1134.0 1247.5,1129.8 1249.1,1125.6 1250.8,1121.3 1252.5,1117.1 1254.1,1112.7 1255.9,1108.4 1257.6,1104.0 1259.3,1099.5 1261.1,1095.0 1262.9,1090.5 1264.7,1085.9 1266.5,1081.3 1268.4,1076.6 1270.3,1071.9 1272.2,1067.2 1274.1,1062.4 1276.1,1057.5 1278.0,1052.6 1280.0,1047.6 1282.1,1042.6 1284.1,1037.5 1286.2,1032.4 1288.3,1027.2 1290.4,1022.0 1292.6,1016.7 1294.8,1011.3 1297.0,1005.9 1299.3,1000.4 1301.6,994.9 1303.9,989.3 1306.2,983.6 1308.6,977.8 1311.0,972.0 1313.5,966.1 1316.0,960.2 1318.5,954.1 1321.1,948.0 1323.7,941.8 1326.4,935.5 1329.1,929.1 1331.8,922.7 1334.6,916.1 1337.4,909.5 1340.3,902.7 1343.2,895.9 1346.2,888.9 1349.3,881.9 1352.3,874.8 1355.5,867.5 1358.7,860.1 1362.0,852.6 1365.3,845.0 1368.7,837.3 1372.1,829.4 1375.6,821.4 1379.2,813.3 1382.9,805.0 1386.7,796.5 1390.5,788.0 1394.4,779.2 1398.4,770.3 1402.5,761.2 1406.6,752.0 1410.9,742.5 1415.3,732.9 1419.8,723.0 1424.4,713.0 1429.1,702.7 1433.9,692.2 1438.9,681.4 1443.9,670.4 1449.2,659.2 1454.6,647.6 1460.1,635.8 1465.8,623.7 1471.6,611.2 1477.7,598.4 1483.9,585.3 1490.4,571.7 1497.0,557.8 1503.9,543.5 1511.1,528.7 1518.5,513.4 1526.1,497.6 1534.1,481.2 1542.4,464.3 1551.1,446.7 1560.1,428.4 1569.6,409.4 1579.4,389.6 1589.8,369.0 1600.7,347.4 1612.2,324.7 1624.3,300.9 1637.2,275.8 1650.8,249.3 1665.4,221.2 1680.9,191.4 1697.6,159.5 1715.7,125.3 1730.2,97.9" fill="none" stroke="#0000ff" stroke-width="0.8" stroke-opacity="0.33" stroke-dasharray="1.7 1.0"/>
<polyline points="1286.4,1203.3 1287.8,1199.7 1289.2,1196.1 1290.6,1192.4 1292.0,1188.8 1293.4,1185.0 1294.9,1181.3 1296.3,1177.5 1297.8,1173.7 1299.2,1169.9 1300.7,1166.0 1302.3,1162.2 1303.8,1158.2 1305.3,1154.3 1306.9,1150.3 1308.5,1146.2 1310.0,1142.2 1311.7,1138.1 1313.3,1134.0 1314.9,1129.8 1316.6,1125.6 1318.3,1121.3 1320.0,1117.1 1321.7,1112.7 1323.4,1108.4 1325.2,1104.0 1326.9,1099.5 1328.7,1095.0 1330.6,1090.5 1332.4,1085.9 1334.3,1081.3 1336.2,1076.6 1338.1,1071.9 1340.0,1067.2 1342.0,1062.4 1343.9,1057.5 1345.9,1052.6 1348.0,1047.6 1350.0,1042.6 1352.1,1037.5 1354.2,1032.4 1356.4,1027.2 1358.5,1022.0 1360.7,1016.7 1363.0,1011.3 1365.2,1005.9 1367.5,1000.4 1369.8,994.9 1372.2,989.3 1374.6,983.6 1377.0,977.8 1379.5,972.0 1382.0,966.1 1384.5,960.2 1387.1,954.1 1389.7,948.0 1392.4,941.8 1395.1,935.5 1397.8,929.1 1400.6,922.7 1403.4,916.1 1406.3,909.5 1409.3,902.7 1412.2,895.9 1415.3,888.9 1418.4,881.9 1421.5,874.8 1424.7,867.5 1428.0,860.1 1431.3,852.6 1434.7,845.0 1438.1,837.3 1441.6,829.4 1445.2,821.4 1448.9,813.3 1452.6,805.0 1456.4,796.5 1460.3,788.0 1464.3,779.2 1468.4,770.3 1472.6,761.2 1476.8,752.0 1481.2,742.5 1485.6,732.9 1490.2,723.0 1494.9,713.0 1499.7,702.7 1504.6,692.2 1509.7,681.4 1514.9,670.4 1520.2,659.2 1525.7,647.6 1531.4,635.8 1537.2,623.7 1543.2,611.2 1549.4,598.4 1555.7,585.3 1562.3,571.7 1569.1,557.8 1576.2,543.5 1583.5,528.7 1591.1,513.4 1598.9,497.6 1607.1,481.2 1615.6,464.3 1624.5,446.7 1633.7,428.4 1643.4,409.4 1653.5,389.6 1664.2,369.0 1675.4,347.4 1687.2,324.7 1699.6,300.9 1712.8,275.8 1726.9,249.3 1741.9,221.2 1757.9,191.4 1775.1,159.5 1793.8,125.3 1808.8,97.9" fill="none" stroke="#0000ff" stroke-width="0.8" stroke-opacity="0.33" stroke-dasharray="1.7 1.0"/>
<polyline points="237.2,940.2 223.8,957.5 210.8,974.2 198.4,990.3 186.3,1005.9 174.7,1021.0 163.4,1035.6 152.5,1049.8 141.9,1063.6 131.6,1076.9 121.6,1089.9 112.0,1102.6 102.5,1114.9 93.3,1126.9 84.4,1138.6 75.7,1150.0 67.2,1161.2 58.9,1172.1 50.8,1182.7 42.8,1193.1 35.1,1203.3" fill="none" stroke="#008000" stroke-width="0.7" stroke-opacity="0.30"/>
<polyline points="369.8,940.2 356.9,957.5 344.4,974.2 332.4,990.3 320.8,1005.9 309.6,1021.0 298.8,1035.6 288.3,1049.8 278.1,1063.6 268.2,1076.9 258.6,1089.9 249.3,1102.6 240.2,1114.9 231.4,1126.9 222.8,1138.6 214.4,1150.0 206.3,1161.2 198.3,1172.1 190.5,1182.7 182.9,1193.1 175.5,1203.3" fill="none" stroke="#008000" stroke-width="0.7" stroke-opacity="0.30"/>
<polyline points="478.6,940.2 466.1,957.5 454.0,974.2 442.4,990.3 431.2,1005.9 420.3,1021.0 409.9,1035.6 399.7,1049.8 389.9,1063.6 380.3,1076.9 371.1,1089.9 362.1,1102.6 353.3,1114.9 344.8,1126.9 336.5,1138.6 328.4,1150.0 320.5,1161.2 312.9,1172.1 305.4,1182.7 298.0,1193.1 290.9,1203.3" fill="none" stroke="#008000" stroke-width="0.7" stroke-opacity="0.30"/>
<polyline points="595.3,940.2 583.3,957.5 571.7,974.2 560.5,990.3 549.7,1005.9 539.3,1021.0 529.2,1035.6 519.5,1049.8 510.0,1063.6 500.9,1076.9 492.0,1089.9 483.3,1102.6 474.9,1114.9 466.7,1126.9 458.8,1138.6 451.0,1150.0 443.5,1161.2 436.1,1172.1 428.9,1182.7 421.9,1193.1 415.0,1203.3" fill="none" stroke="#008000" stroke-width="0.7" stroke-opacity="0.30"/>
<polyline points="695.9,940.2 684.2,957.5 673.1,974.2 662.3,990.3 651.9,1005.9 641.8,1021.0 632.1,1035.6 622.7,1049.8 613.6,1063.6 604.8,1076.9 596.2,1089.9 587.9,1102.6 579.8,1114.9 571.9,1126.9 564.3,1138.6 556.8,1150.0 549.5,1161.2 542.5,1172.1 535.5,1182.7 528.8,1193.1 522.2,1203.3" fill="none" stroke="#008000" stroke-width="0.7" stroke-opacity="0.30"/>
<polyline points="763.0,940.2 751.7,957.5 740.7,974.2 730.2,990.3 720.1,1005.9 710.3,1021.0 700.8,1035.6 691.7,1049.8 682.8,1063.6 674.2,1076.9 665.8,1089.9 657.7,1102.6 649.9,1114.9 642.2,1126.9 634.8,1138.6 627.5,1150.0 620.5,1161.2 613.6,1172.1 606.8,1182.7 600.3,1193.1 593.9,1203.3" fill="none" stroke="#008000" stroke-width="0.7" stroke-opacity="0.30"/>
<polyline points="855.1,940.2 844.2,957.5 833.6,974.2 823.5,990.3 813.7,1005.9 804.3,1021.0 795.2,1035.6 786.4,1049.8 777.8,1063.6 769.5,1076.9 761.5,1089.9 753.7,1102.6 746.1,1114.9 738.8,1126.9 731.6,1138.6 724.7,1150.0 717.9,1161.2 711.3,1172.1 704.8,1182.7 698.5,1193.1 692.4,1203.3" fill="none" stroke="#008000" stroke-width="0.7" stroke-opacity="0.30"/>
<polyline points="937.8,940.2 927.2,957.5 917.1,974.2 907.3,990.3 897.8,1005.9 888.7,1021.0 879.9,1035.6 871.4,1049.8 863.2,1063.6 855.2,1076.9 847.5,1089.9 840.0,1102.6 832.7,1114.9 825.6,1126.9 818.7,1138.6 812.0,1150.0 805.5,1161.2 799.1,1172.1 792.9,1182.7 786.8,1193.1 780.9,1203.3" fill="none" stroke="#008000" stroke-width="0.7" stroke-opacity="0.30"/>
<polyline points="998.2,940.2 987.9,957.5 978.0,974.2 968.4,990.3 959.2,1005.9 950.4,1021.0 941.8,1035.6 933.5,1049.8 925.5,1063.6 917.8,1076.9 910.3,1089.9 903.0,1102.6 895.9,1114.9 889.0,1126.9 882.3,1138.6 875.8,1150.0 869.5,1161.2 863.3,1172.1 857.3,1182.7 851.4,1193.1 845.7,1203.3" fill="none" stroke="#008000" stroke-width="0.7" stroke-opacity="0.30"/>
<line x1="-1616.8" y1="1203.3" x2="-433.0" y2="97.9" stroke="#8e8e8e" stroke-width="1.25"/>
<line x1="-1482.5" y1="1203.3" x2="-298.7" y2="97.9" stroke="#8e8e8e" stroke-width="1.25"/>
<line x1="-1348.2" y1="1203.3" x2="-164.4" y2="97.9" stroke="#8e8e8e" stroke-width="1.25"/>
<line x1="-1213.9" y1="1203.3" x2="-30.1" y2="97.9" stroke="#8e8e8e" stroke-width="1.25"/>
<line x1="-1079.6" y1="1203.3" x2="104.2" y2="97.9" stroke="#8e8e8e" stroke-width="1.25"/>
<line x1="-945.3" y1="1203.3" x2="238.5" y2="97.9" stroke="#8e8e8e" stroke-width="1.25"/>
<line x1="-811.0" y1="1203.3" x2="372.8" y2="97.9" stroke="#8e8e8e" stroke-width="1.25"/>
<line x1="-676.7" y1="1203.3" x2="507.1" y2="97.9" stroke="#8e8e8e" stroke-width="1.25"/>
<line x1="-542.4" y1="1203.3" x2="641.4" y2="97.9" stroke="#8e8e8e" stroke-width="1.25"/>
<line x1="-408.1" y1="1203.3" x2="775.7" y2="97.9" stroke="#8e8e8e" stroke-width="1.25"/>
<line x1="-273.8" y1="1203.3" x2="910.0" y2="97.9" stroke="#8e8e8e" stroke-width="1.25"/>
<line x1="-139.5" y1="1203.3" x2="1044.3" y2="97.9" stroke="#8e8e8e" stroke-width="1.25"/>
<line x1="-5.2" y1="1203.3" x2="1178.6" y2="97.9" stroke="#8e8e8e" stroke-width="1.25"/>
<line x1="129.1" y1="1203.3" x2="1312.9" y2="97.9" stroke="#8e8e8e" stroke-width="1.25"/>
<line x1="263.4" y1="1203.3" x2="1447.2" y2="97.9" stroke="#8e8e8e" stroke-width="1.25"/>
<line x1="397.7" y1="1203.3" x2="1581.5" y2="97.9" stroke="#8e8e8e" stroke-width="1.25"/>
<line x1="532.0" y1="1203.3" x2="1715.8" y2="97.9" stroke="#8e8e8e" stroke-width="1.25"/>
<line x1="666.3" y1="1203.3" x2="1850.1" y2="97.9" stroke="#8e8e8e" stroke-width="1.25"/>
<line x1="800.6" y1="1203.3" x2="1984.4" y2="97.9" stroke="#8e8e8e" stroke-width="1.25"/>
<line x1="934.9" y1="1203.3" x2="2118.7" y2="97.9" stroke="#8e8e8e" stroke-width="1.25"/>
<line x1="1069.2" y1="1203.3" x2="2253.0" y2="97.9" stroke="#8e8e8e" stroke-width="1.25"/>
<line x1="1203.5" y1="1203.3" x2="2387.3" y2="97.9" stroke="#8e8e8e" stroke-width="1.25"/>
<line x1="1337.8" y1="1203.3" x2="2521.6" y2="97.9" stroke="#8e8e8e" stroke-width="1.25"/>
<line x1="31.6" y1="423.8" x2="1301.7" y2="423.8" stroke="#8c8c8c" stroke-width="1.2"/>
<line x1="31.6" y1="614.4" x2="1301.7" y2="614.4" stroke="#8c8c8c" stroke-width="1.2"/>
<line x1="31.6" y1="749.6" x2="1301.7" y2="749.6" stroke="#8c8c8c" stroke-width="1.2"/>
<line x1="31.6" y1="854.5" x2="1301.7" y2="854.5" stroke="#8c8c8c" stroke-width="1.2"/>
<line x1="31.6" y1="940.2" x2="1301.7" y2="940.2" stroke="#8c8c8c" stroke-width="1.2"/>
<line x1="31.6" y1="1012.7" x2="1301.7" y2="1012.7" stroke="#8c8c8c" stroke-width="1.2"/>
<line x1="31.6" y1="1075.5" x2="1301.7" y2="1075.5" stroke="#8c8c8c" stroke-width="1.2"/>
<line x1="31.6" y1="1130.8" x2="1301.7" y2="1130.8" stroke="#8c8c8c" stroke-width="1.2"/>
<line x1="31.6" y1="1180.4" x2="1301.7" y2="1180.4" stroke="#8c8c8c" stroke-width="1.2"/>
<line x1="397.7" y1="1203.3" x2="1581.5" y2="97.9" stroke="#6b6bdc" stroke-width="1.9" stroke-dasharray="12 4"/>
<line x1="129.1" y1="1203.3" x2="1312.9" y2="97.9" stroke="#6b6bdc" stroke-width="1.9" stroke-dasharray="12 4"/>
</g>
<g clip-path="url(#cskew)">
<text x="40.6" y="430.1" font-size="16.6" fill="#000" font-weight="bold">200</text>
<text x="40.8" y="620.7" font-size="16.6" fill="#000" font-weight="bold">300</text>
<text x="41.2" y="755.9" font-size="16.6" fill="#000" font-weight="bold">400</text>
<text x="40.6" y="860.8" font-size="16.6" fill="#000" font-weight="bold">500</text>
<text x="40.9" y="946.5" font-size="16.6" fill="#000" font-weight="bold">600</text>
<text x="40.8" y="1019.0" font-size="16.6" fill="#000" font-weight="bold">700</text>
<text x="40.9" y="1081.8" font-size="16.6" fill="#000" font-weight="bold">800</text>
<text x="41.0" y="1137.1" font-size="16.6" fill="#000" font-weight="bold">900</text>
<text x="40.0" y="1186.7" font-size="16.6" fill="#000" font-weight="bold">1000</text>
<line x1="195.6" y1="659" x2="195.6" y2="826" stroke="#008000" stroke-opacity="0.45" stroke-width="3.8"/>
<text x="174.3" y="649.5" font-size="16.3" fill="#8cc68c" font-weight="bold">HGZ</text>
<line x1="233.8" y1="1024.2" x2="233.8" y2="1135.8" stroke="#b22222" stroke-opacity="0.32" stroke-width="3.8"/>
<text x="214.2" y="1020.0" font-size="16.3" fill="#ecc0c2" font-weight="bold">11.4</text>
<polyline points="672.7,98.6 670.7,111.5 660.3,138.0 650.4,161.1 642.1,178.5 622.3,210.7 615.7,221.4 619.0,243.8 620.6,249.5 609.9,268.6 595.9,282.6 578.5,288.4 554.5,300.8 541.3,312.4 534.7,321.4 526.4,343.0 524.4,367.7 519.8,405.0 521.5,419.8 525.0,433.4 534.6,455.4 502.3,476.7 498.6,492.6 506.0,525.5 529.6,570.2 522.9,587.5 529.6,613.6 549.5,650.8 565.6,684.2 581.7,720.2 597.8,748.7 593.4,769.8 593.4,807.3 585.4,832.1 575.5,848.2 578.5,853.1 576.7,866.8 576.0,911.4 576.7,928.8 591.6,970.9 600.3,1013.1 607.7,1040.4 616.4,1097.4 620.1,1102.3 622.1,1117.7 630.0,1121.7 661.1,1133.8" fill="none" stroke="#84b5f8" stroke-width="3.0" stroke-linejoin="round"/>
<polyline points="599.8,1013.1 607.7,1042.8 613.9,1077.5 618.2,1109.8 620.1,1134.6" fill="none" stroke="#8b008b" stroke-width="1.2" stroke-dasharray="4 2.5"/>
<polyline points="351.8,98.7 350.4,106.9 334.5,116.1 317.6,142.1 292.8,179.3 268.0,219.0 257.6,245.0 259.4,248.7 248.2,269.8 241.3,275.0 284.2,288.4 287.9,312.0 294.8,321.9 299.0,343.0 354.8,387.6 375.9,403.7 388.3,409.2 364.7,424.3 332.5,440.0 296.5,455.4 332.5,477.2 355.3,493.3 349.4,508.9 368.5,528.0 334.5,562.0 373.4,581.3 368.5,614.8 353.6,650.8 357.3,658.2 362.8,684.2 405.7,714.0 390.0,723.4 442.8,744.2 434.2,749.9 196.1,790.9 104.4,807.3 59.8,832.6 54.8,838.3 46.9,854.4 49.3,864.3 44.4,890.3 47.4,897.8 211.0,928.8 325.1,943.2 313.9,969.7 266.8,1011.8 263.1,1028.0 218.4,1097.4 230.8,1103.6 245.2,1117.7 392.5,1134.1" fill="none" stroke="#6495ed" stroke-width="7.0" stroke-linejoin="round" stroke-linecap="butt"/>
<polyline points="674.2,98.6 672.2,111.5 661.8,138.0 651.9,161.1 643.6,178.5 623.8,210.7 617.2,221.4 620.5,243.8 622.1,249.5 611.4,268.6 597.4,282.6 580.0,288.4 556.0,300.8 542.8,312.4 536.2,321.4 527.9,343.0 525.9,367.7 522.2,405.0 524.7,419.8 528.4,433.4 537.0,454.5 533.3,461.8 506.1,476.7 503.1,492.6 511.0,511.9 513.0,525.5 517.2,529.3 539.5,570.2 533.3,587.5 542.0,613.6 566.8,648.3 574.3,663.2 592.9,684.2 608.0,714.0 620.1,724.3 625.7,738.4 638.1,750.8 667.9,807.9 666.1,831.4 660.4,836.4 657.2,848.8 664.1,853.7 667.1,862.4 666.6,866.6 679.0,898.4 687.0,944.2 760.8,1009.9 847.6,1074.9 876.9,1097.9 889.3,1102.9 904.1,1117.8 972.3,1133.9" fill="none" stroke="#ff0000" stroke-width="7.0" stroke-linejoin="round" stroke-linecap="butt"/>
<line x1="970.5" y1="1133.5" x2="974.5" y2="1134.4" stroke="#c03838" stroke-width="7"/>
<text x="91.0" y="307.7" font-size="15.3" fill="#555" font-weight="bold">13km</text>
<text x="91.7" y="595.0" font-size="15.3" fill="#555" font-weight="bold">9km</text>
<text x="91.5" y="727.6" font-size="15.3" fill="#555" font-weight="bold">7km</text>
<text x="91.3" y="851.9" font-size="15.3" fill="#555" font-weight="bold">5km</text>
<text x="91.5" y="969.9" font-size="15.3" fill="#555" font-weight="bold">3km</text>
<text x="90.8" y="1080.5" font-size="15.3" fill="#555" font-weight="bold">1km</text>
<text x="92.4" y="1135.1" font-size="15.3" fill="#555" font-weight="bold">-SFC (872m) -</text>
<text x="258.5" y="381.9" font-size="18.75" fill="#58a758">17% →</text>
<text x="282.0" y="594.2" font-size="18.75" fill="#58a758">26% →</text>
<text x="142.7" y="789.1" font-size="18.75" fill="#58a758">4% →</text>
<text x="231.6" y="969.7" font-size="18.75" fill="#58a758">9% →</text>
<text x="148.4" y="1080.5" font-size="18.75" fill="#58a758">3% →</text>
<text x="346.2" y="1154.8" font-size="15.6" fill="#8fb3f2" font-weight="bold">21°F</text>
<text x="970.3" y="1155.0" font-size="15.6" fill="#ff5555" font-weight="bold">98°F</text>
<text x="1072.1" y="838.9" font-size="20.8" fill="#808080" font-weight="bold" opacity="0.92">←SBLCL</text>
<text x="1072.1" y="838.9" font-size="20.8" fill="#808080" font-weight="bold" opacity="0.92">←SBEL</text>
<text x="1022.0" y="898.7" font-size="13.6" fill="#808080" font-weight="bold">←PBL</text>
<text x="1003.1" y="928.8" font-size="16.4" fill="#9fbcf1" font-weight="bold">←FRZ</text>
<text x="1003.1" y="1009.9" font-size="16.4" fill="#9fbcf1" font-weight="bold">←WB0</text>
<line x1="1046.8" y1="900.2" x2="1046.8" y2="1134" stroke="#5a5a5a" stroke-width="1.8" stroke-dasharray="1.8 3.75"/>
<line x1="1122.9" y1="839.7" x2="1122.9" y2="1134" stroke="#5a5a5a" stroke-width="1.8" stroke-dasharray="1.8 3.75"/>
<text x="127.1" y="1199.6" font-size="16.6" fill="#000" font-weight="bold" text-anchor="middle">−20</text>
<text x="261.4" y="1199.6" font-size="16.6" fill="#000" font-weight="bold" text-anchor="middle">−10</text>
<text x="397.7" y="1199.6" font-size="16.6" fill="#000" font-weight="bold" text-anchor="middle">0</text>
<text x="532.0" y="1199.6" font-size="16.6" fill="#000" font-weight="bold" text-anchor="middle">10</text>
<text x="666.3" y="1199.6" font-size="16.6" fill="#000" font-weight="bold" text-anchor="middle">20</text>
<text x="800.6" y="1199.6" font-size="16.6" fill="#000" font-weight="bold" text-anchor="middle">30</text>
<text x="934.9" y="1199.6" font-size="16.6" fill="#000" font-weight="bold" text-anchor="middle">40</text>
<text x="1069.2" y="1199.6" font-size="16.6" fill="#000" font-weight="bold" text-anchor="middle">50</text>
<text x="1203.5" y="1199.6" font-size="16.6" fill="#000" font-weight="bold" text-anchor="middle">60</text>
</g>
<line x1="31.6" y1="423.8" x2="36.800000000000004" y2="423.8" stroke="#000" stroke-width="1.3"/>
<line x1="31.6" y1="614.4" x2="36.800000000000004" y2="614.4" stroke="#000" stroke-width="1.3"/>
<line x1="31.6" y1="749.6" x2="36.800000000000004" y2="749.6" stroke="#000" stroke-width="1.3"/>
<line x1="31.6" y1="854.5" x2="36.800000000000004" y2="854.5" stroke="#000" stroke-width="1.3"/>
<line x1="31.6" y1="940.2" x2="36.800000000000004" y2="940.2" stroke="#000" stroke-width="1.3"/>
<line x1="31.6" y1="1012.7" x2="36.800000000000004" y2="1012.7" stroke="#000" stroke-width="1.3"/>
<line x1="31.6" y1="1075.5" x2="36.800000000000004" y2="1075.5" stroke="#000" stroke-width="1.3"/>
<line x1="31.6" y1="1130.8" x2="36.800000000000004" y2="1130.8" stroke="#000" stroke-width="1.3"/>
<line x1="31.6" y1="1180.4" x2="36.800000000000004" y2="1180.4" stroke="#000" stroke-width="1.3"/>
<line x1="129.1" y1="1197.3" x2="129.1" y2="1203.3" stroke="#000" stroke-width="1.3"/>
<line x1="263.4" y1="1197.3" x2="263.4" y2="1203.3" stroke="#000" stroke-width="1.3"/>
<line x1="397.7" y1="1197.3" x2="397.7" y2="1203.3" stroke="#000" stroke-width="1.3"/>
<line x1="532.0" y1="1197.3" x2="532.0" y2="1203.3" stroke="#000" stroke-width="1.3"/>
<line x1="666.3" y1="1197.3" x2="666.3" y2="1203.3" stroke="#000" stroke-width="1.3"/>
<line x1="800.6" y1="1197.3" x2="800.6" y2="1203.3" stroke="#000" stroke-width="1.3"/>
<line x1="934.9" y1="1197.3" x2="934.9" y2="1203.3" stroke="#000" stroke-width="1.3"/>
<line x1="1069.2" y1="1197.3" x2="1069.2" y2="1203.3" stroke="#000" stroke-width="1.3"/>
<line x1="1203.5" y1="1197.3" x2="1203.5" y2="1203.3" stroke="#000" stroke-width="1.3"/>
<rect x="37.6" y="105.4" width="178.8" height="109.1" rx="3.2" fill="#fff" fill-opacity="0.8" stroke="#dcdcdc" stroke-width="1.3"/>
<line x1="42" y1="116.3" x2="73" y2="116.3" stroke="#84b5f8" stroke-width="3.0"/>
<line x1="43" y1="137.0" x2="71.2" y2="137.0" stroke="#a85050" stroke-width="5.8" stroke-dasharray="6 5.1"/>
<line x1="39.9" y1="158.3" x2="75" y2="158.3" stroke="#6495ed" stroke-width="7"/>
<line x1="39.9" y1="179.4" x2="75" y2="179.4" stroke="#ff0000" stroke-width="7"/>
<line x1="43.2" y1="200.5" x2="72" y2="200.5" stroke="#a020a0" stroke-width="1.2" stroke-dasharray="3.7 1.2"/>
<text x="82.4" y="121.9" font-size="13.9" fill="#000">WETBULB TEMP</text>
<text x="82.8" y="143.0" font-size="13.9" fill="#000">VIRTUAL TEMP</text>
<text x="81.5" y="164.1" font-size="13.9" fill="#000">DEWPOINT</text>
<text x="82.9" y="185.0" font-size="13.9" fill="#000">TEMPERATURE</text>
<text x="81.5" y="205.9" font-size="13.9" fill="#000">DWNDRFT PARCEL</text>
<line x1="1244.3" y1="153.1" x2="1244.3" y2="1192.2" stroke="#333" stroke-width="1.1"/>
<polygon points="1244.3,220.9 1200.0,217.5 1205.1,200.2 1207.5,218.1 1210.4,218.3 1215.4,201.0 1217.8,218.9 1223.5,219.3 1221.8,201.5 1223.5,219.3" fill="#000" stroke="#000" stroke-width="1.6" stroke-linejoin="miter"/>
<circle cx="1244.3" cy="220.9" r="3.1" fill="#000"/>
<polygon points="1244.3,250.0 1200.1,253.9 1202.3,236.0 1207.5,253.2 1210.4,253.0 1212.6,235.1 1217.9,252.3 1223.5,251.8 1218.9,234.6 1223.5,251.8" fill="#000" stroke="#000" stroke-width="1.6" stroke-linejoin="miter"/>
<circle cx="1244.3" cy="250" r="3.1" fill="#000"/>
<polygon points="1244.3,288.1 1200.6,295.8 1201.2,277.8 1208.0,294.5 1213.6,293.5 1207.5,276.7 1213.6,293.5 1219.2,292.5 1213.1,275.7 1219.2,292.5 1224.8,291.5 1218.7,274.7 1224.8,291.5 1230.4,290.5 1224.3,273.7 1230.4,290.5" fill="#000" stroke="#000" stroke-width="1.6" stroke-linejoin="miter"/>
<circle cx="1244.3" cy="288.1" r="3.1" fill="#000"/>
<polygon points="1244.3,321.4 1200.7,313.3 1207.6,296.6 1208.0,314.6 1210.8,315.2 1217.7,298.5 1218.2,316.5 1223.8,317.6 1224.0,299.7 1223.8,317.6" fill="#000" stroke="#000" stroke-width="1.6" stroke-linejoin="miter"/>
<circle cx="1244.3" cy="321.4" r="3.1" fill="#000"/>
<polygon points="1244.3,344.3 1201.1,333.9 1208.9,317.7 1208.4,335.7 1211.2,336.3 1219.0,320.1 1218.5,338.1 1224.0,339.4 1225.1,321.6 1224.0,339.4 1229.6,340.8 1230.7,322.9 1229.6,340.8" fill="#000" stroke="#000" stroke-width="1.6" stroke-linejoin="miter"/>
<circle cx="1244.3" cy="344.3" r="3.1" fill="#000"/>
<polygon points="1244.3,386.6 1200.1,382.7 1205.3,365.5 1207.5,383.4 1210.4,383.6 1215.7,366.4 1217.9,384.3 1223.5,384.8 1222.0,367.0 1223.5,384.8 1229.2,385.3 1227.7,367.5 1229.2,385.3 1234.9,385.8 1234.1,376.9 1234.9,385.8" fill="#000" stroke="#000" stroke-width="1.6" stroke-linejoin="miter"/>
<circle cx="1244.3" cy="386.6" r="3.1" fill="#000"/>
<polygon points="1244.3,423.6 1200.1,419.8 1205.3,402.6 1207.5,420.4 1210.4,420.7 1215.6,403.5 1217.8,421.3 1223.5,421.8 1221.9,404.0 1223.5,421.8 1229.2,422.3 1227.6,404.5 1229.2,422.3" fill="#000" stroke="#000" stroke-width="1.6" stroke-linejoin="miter"/>
<circle cx="1244.3" cy="423.6" r="3.1" fill="#000"/>
<polygon points="1244.3,453.4 1199.9,453.4 1203.6,435.8 1207.4,453.4 1213.1,453.4 1210.0,435.8 1213.1,453.4 1218.8,453.4 1215.7,435.8 1218.8,453.4 1224.5,453.4 1221.4,435.8 1224.5,453.4 1230.2,453.4 1227.1,435.8 1230.2,453.4 1235.9,453.4 1234.3,444.6 1235.9,453.4" fill="#000" stroke="#000" stroke-width="1.6" stroke-linejoin="miter"/>
<circle cx="1244.3" cy="453.4" r="3.1" fill="#000"/>
<polygon points="1244.3,476.5 1199.9,476.5 1203.6,458.9 1207.4,476.5 1213.1,476.5 1210.0,458.9 1213.1,476.5 1218.8,476.5 1215.7,458.9 1218.8,476.5 1224.5,476.5 1221.4,458.9 1224.5,476.5 1230.2,476.5 1227.1,458.9 1230.2,476.5" fill="#000" stroke="#000" stroke-width="1.6" stroke-linejoin="miter"/>
<circle cx="1244.3" cy="476.5" r="3.1" fill="#000"/>
<polygon points="1244.3,518.3 1199.9,518.3 1203.6,500.7 1207.4,518.3 1213.1,518.3 1210.0,500.7 1213.1,518.3 1218.8,518.3 1215.7,500.7 1218.8,518.3 1224.5,518.3 1221.4,500.7 1224.5,518.3 1230.2,518.3 1227.1,500.7 1230.2,518.3 1235.9,518.3 1234.3,509.5 1235.9,518.3" fill="#000" stroke="#000" stroke-width="1.6" stroke-linejoin="miter"/>
<circle cx="1244.3" cy="518.3" r="3.1" fill="#000"/>
<polygon points="1244.3,560.9 1200.0,563.9 1202.5,546.1 1207.5,563.4 1213.2,563.0 1208.9,545.7 1213.2,563.0 1218.9,562.6 1214.6,545.3 1218.9,562.6 1224.5,562.2 1220.3,544.9 1224.5,562.2 1230.2,561.9 1225.9,544.5 1230.2,561.9" fill="#000" stroke="#000" stroke-width="1.6" stroke-linejoin="miter"/>
<circle cx="1244.3" cy="560.9" r="3.1" fill="#000"/>
<polygon points="1244.3,581.6 1200.0,583.7 1202.8,566.0 1207.4,583.4 1213.1,583.1 1209.2,565.7 1213.1,583.1 1218.8,582.8 1214.9,565.4 1218.8,582.8 1224.5,582.6 1220.6,565.1 1224.5,582.6 1230.2,582.3 1228.2,573.6 1230.2,582.3" fill="#000" stroke="#000" stroke-width="1.6" stroke-linejoin="miter"/>
<circle cx="1244.3" cy="581.6" r="3.1" fill="#000"/>
<polygon points="1244.3,614.2 1199.9,614.2 1203.6,596.6 1207.4,614.2 1213.1,614.2 1210.0,596.6 1213.1,614.2 1218.8,614.2 1215.7,596.6 1218.8,614.2 1224.5,614.2 1223.0,605.4 1224.5,614.2" fill="#000" stroke="#000" stroke-width="1.6" stroke-linejoin="miter"/>
<circle cx="1244.3" cy="614.2" r="3.1" fill="#000"/>
<polygon points="1244.3,649.9 1199.9,649.9 1203.6,632.3 1207.4,649.9 1213.1,649.9 1210.0,632.3 1213.1,649.9 1218.8,649.9 1215.7,632.3 1218.8,649.9" fill="#000" stroke="#000" stroke-width="1.6" stroke-linejoin="miter"/>
<circle cx="1244.3" cy="649.9" r="3.1" fill="#000"/>
<polygon points="1244.3,683.8 1199.9,683.8 1203.6,666.2 1207.4,683.8 1213.1,683.8 1210.0,666.2 1213.1,683.8 1218.8,683.8 1217.2,675.0 1218.8,683.8" fill="#000" stroke="#000" stroke-width="1.6" stroke-linejoin="miter"/>
<circle cx="1244.3" cy="683.8" r="3.1" fill="#000"/>
<polygon points="1244.3,714.0 1199.9,714.0 1203.6,696.4 1207.4,714.0 1213.1,714.0 1210.0,696.4 1213.1,714.0 1218.8,714.0 1217.2,705.2 1218.8,714.0" fill="#000" stroke="#000" stroke-width="1.6" stroke-linejoin="miter"/>
<circle cx="1244.3" cy="714" r="3.1" fill="#000"/>
<polygon points="1244.3,749.3 1199.9,749.3 1203.6,731.7 1207.4,749.3 1213.1,749.3 1210.0,731.7 1213.1,749.3 1218.8,749.3 1217.2,740.5 1218.8,749.3" fill="#000" stroke="#000" stroke-width="1.6" stroke-linejoin="miter"/>
<circle cx="1244.3" cy="749.3" r="3.1" fill="#000"/>
<polygon points="1244.3,781.0 1199.9,781.0 1203.6,763.4 1207.4,781.0" fill="#000" stroke="#000" stroke-width="1.6" stroke-linejoin="miter"/>
<circle cx="1244.3" cy="781" r="3.1" fill="#000"/>
<polygon points="1244.3,818.7 1200.5,825.8 1201.4,807.8 1207.9,824.6 1213.5,823.7 1210.6,815.2 1213.5,823.7" fill="#000" stroke="#000" stroke-width="1.6" stroke-linejoin="miter"/>
<circle cx="1244.3" cy="818.7" r="3.1" fill="#000"/>
<polygon points="1244.3,848.2 1202.1,861.9 1200.2,844.0 1209.2,859.6" fill="#000" stroke="#000" stroke-width="1.6" stroke-linejoin="miter"/>
<circle cx="1244.3" cy="848.2" r="3.1" fill="#000"/>
<polygon points="1244.3,874.3 1202.4,889.1 1200.1,871.2 1209.5,886.6 1214.9,884.7 1210.5,876.9 1214.9,884.7" fill="#000" stroke="#000" stroke-width="1.6" stroke-linejoin="miter"/>
<circle cx="1244.3" cy="874.3" r="3.1" fill="#000"/>
<polygon points="1244.3,910.7 1201.4,922.1 1193.9,905.9 1201.4,922.1 1206.9,920.6 1199.4,904.4 1206.9,920.6 1212.4,919.2 1204.9,903.0 1212.4,919.2 1217.9,917.7 1214.2,909.6 1217.9,917.7" fill="#000" stroke="#000" stroke-width="1.6" stroke-linejoin="miter"/>
<circle cx="1244.3" cy="910.7" r="3.1" fill="#000"/>
<polygon points="1244.3,946.4 1205.7,968.3 1194.3,954.5 1205.7,968.3 1210.6,965.5 1199.3,951.7 1210.6,965.5 1215.6,962.7 1209.9,955.8 1215.6,962.7" fill="#000" stroke="#000" stroke-width="1.6" stroke-linejoin="miter"/>
<circle cx="1244.3" cy="946.4" r="3.1" fill="#000"/>
<polygon points="1244.3,981.4 1205.8,1003.5 1194.3,989.8 1205.8,1003.5 1210.7,1000.7 1199.3,986.9 1210.7,1000.7 1215.7,997.8 1210.0,991.0 1215.7,997.8" fill="#000" stroke="#000" stroke-width="1.6" stroke-linejoin="miter"/>
<circle cx="1244.3" cy="981.4" r="3.1" fill="#000"/>
<polygon points="1244.3,1016.2 1207.2,1040.5 1194.9,1027.5 1207.2,1040.5 1211.9,1037.4 1199.7,1024.4 1211.9,1037.4 1216.7,1034.3 1204.5,1021.3 1216.7,1034.3" fill="#000" stroke="#000" stroke-width="1.6" stroke-linejoin="miter"/>
<circle cx="1244.3" cy="1016.2" r="3.1" fill="#000"/>
<polygon points="1244.3,1050.1 1205.6,1071.8 1194.3,1058.0 1205.6,1071.8 1210.5,1069.0 1199.2,1055.2 1210.5,1069.0 1215.5,1066.2 1209.9,1059.3 1215.5,1066.2" fill="#000" stroke="#000" stroke-width="1.6" stroke-linejoin="miter"/>
<circle cx="1244.3" cy="1050.1" r="3.1" fill="#000"/>
<polygon points="1244.3,1083.1 1203.9,1101.6 1193.8,1086.9 1203.9,1101.6 1209.1,1099.2 1199.0,1084.5 1209.1,1099.2 1214.3,1096.8 1209.2,1089.5 1214.3,1096.8" fill="#000" stroke="#000" stroke-width="1.6" stroke-linejoin="miter"/>
<circle cx="1244.3" cy="1083.1" r="3.1" fill="#000"/>
<polygon points="1244.3,1118.5 1200.0,1121.8 1195.6,1104.5 1200.0,1121.8 1205.7,1121.4 1203.5,1112.8 1205.7,1121.4" fill="#000" stroke="#000" stroke-width="1.6" stroke-linejoin="miter"/>
<circle cx="1244.3" cy="1118.5" r="3.1" fill="#000"/>
<polygon points="1244.3,1133.9 1200.1,1129.8 1198.6,1112.0 1200.1,1129.8" fill="#000" stroke="#000" stroke-width="1.6" stroke-linejoin="miter"/>
<circle cx="1244.3" cy="1133.9" r="3.1" fill="#000"/>
<g clip-path="url(#comega)">
<line x1="1301.7" y1="423.8" x2="1389.5" y2="423.8" stroke="#8c8c8c" stroke-width="1.2"/>
<line x1="1301.7" y1="614.4" x2="1389.5" y2="614.4" stroke="#8c8c8c" stroke-width="1.2"/>
<line x1="1301.7" y1="749.6" x2="1389.5" y2="749.6" stroke="#8c8c8c" stroke-width="1.2"/>
<line x1="1301.7" y1="854.5" x2="1389.5" y2="854.5" stroke="#8c8c8c" stroke-width="1.2"/>
<line x1="1301.7" y1="940.2" x2="1389.5" y2="940.2" stroke="#8c8c8c" stroke-width="1.2"/>
<line x1="1301.7" y1="1012.7" x2="1389.5" y2="1012.7" stroke="#8c8c8c" stroke-width="1.2"/>
<line x1="1301.7" y1="1075.5" x2="1389.5" y2="1075.5" stroke="#8c8c8c" stroke-width="1.2"/>
<line x1="1301.7" y1="1130.8" x2="1389.5" y2="1130.8" stroke="#8c8c8c" stroke-width="1.2"/>
<line x1="1301.7" y1="1180.4" x2="1389.5" y2="1180.4" stroke="#8c8c8c" stroke-width="1.2"/>
<rect x="1336.4" y="97" width="14.9" height="213.2" fill="#ffb0b0" stroke="#c49a9a" stroke-width="0.9"/>
<rect x="1336.4" y="310.2" width="8.1" height="232.4" fill="#ffb0b0" stroke="#c49a9a" stroke-width="0.9"/>
<rect x="1336.4" y="542.6" width="6.1" height="154.1" fill="#ffb0b0" stroke="#c49a9a" stroke-width="0.9"/>
<rect x="1336.4" y="696.7" width="26.3" height="115.7" fill="#ffb0b0" stroke="#c49a9a" stroke-width="0.9"/>
<rect x="1336.4" y="812.4" width="8.8" height="92.5" fill="#ffb0b0" stroke="#c49a9a" stroke-width="0.9"/>
<rect x="1336.4" y="904.9" width="2.7" height="78.1" fill="#ffb0b0" stroke="#c49a9a" stroke-width="0.9"/>
<rect x="1331.6" y="983" width="4.8" height="65.9" fill="#cddcf8" stroke="#9fb0cf" stroke-width="0.9"/>
<rect x="1327.4" y="1048.9" width="9.0" height="59.2" fill="#cddcf8" stroke="#9fb0cf" stroke-width="0.9"/>
<line x1="1336.4" y1="97.9" x2="1336.4" y2="1203.3" stroke="#000" stroke-width="1.5" stroke-dasharray="5.5 2.6"/>
<text x="1337.8" y="171.8" font-size="13.3" fill="#000" font-weight="bold">2.2</text>
<text x="1337.4" y="463.6" font-size="13.3" fill="#000" font-weight="bold">1.2</text>
<text x="1338.3" y="641.6" font-size="13.3" fill="#000" font-weight="bold">0.9</text>
<text x="1338.0" y="769.4" font-size="13.3" fill="#000" font-weight="bold">3.9</text>
<text x="1337.4" y="870.3" font-size="13.3" fill="#000" font-weight="bold">1.3</text>
<text x="1338.3" y="953.4" font-size="13.3" fill="#000" font-weight="bold">0.4</text>
<text x="1334.6" y="1023.5" font-size="13.3" fill="#000" font-weight="bold" text-anchor="end">-0.8</text>
<text x="1334.7" y="1085.5" font-size="13.3" fill="#000" font-weight="bold" text-anchor="end">-1.5</text>
</g>
<g clip-path="url(#chodo)">
<circle cx="1543.1" cy="658.0" r="71.4" fill="none" stroke="#bcbcbc" stroke-width="1.15" stroke-dasharray="4.6 3"/>
<circle cx="1543.1" cy="658.0" r="142.8" fill="none" stroke="#c0c0c0" stroke-width="1.5"/>
<circle cx="1543.1" cy="658.0" r="142.8" fill="none" stroke="#9a9a9a" stroke-width="1.5" stroke-dasharray="10 1.3"/>
<circle cx="1543.1" cy="658.0" r="214.2" fill="none" stroke="#bcbcbc" stroke-width="1.15" stroke-dasharray="4.6 3"/>
<circle cx="1543.1" cy="658.0" r="285.6" fill="none" stroke="#c0c0c0" stroke-width="1.5"/>
<circle cx="1543.1" cy="658.0" r="285.6" fill="none" stroke="#9a9a9a" stroke-width="1.5" stroke-dasharray="10 1.3"/>
<circle cx="1543.1" cy="658.0" r="357.0" fill="none" stroke="#bcbcbc" stroke-width="1.15" stroke-dasharray="4.6 3"/>
<circle cx="1543.1" cy="658.0" r="428.4" fill="none" stroke="#c0c0c0" stroke-width="1.5"/>
<circle cx="1543.1" cy="658.0" r="428.4" fill="none" stroke="#9a9a9a" stroke-width="1.5" stroke-dasharray="10 1.3"/>
<circle cx="1543.1" cy="658.0" r="499.8" fill="none" stroke="#bcbcbc" stroke-width="1.15" stroke-dasharray="4.6 3"/>
<circle cx="1543.1" cy="658.0" r="571.2" fill="none" stroke="#c0c0c0" stroke-width="1.5"/>
<circle cx="1543.1" cy="658.0" r="571.2" fill="none" stroke="#9a9a9a" stroke-width="1.5" stroke-dasharray="10 1.3"/>
<circle cx="1543.1" cy="658.0" r="642.6" fill="none" stroke="#bcbcbc" stroke-width="1.15" stroke-dasharray="4.6 3"/>
<circle cx="1543.1" cy="658.0" r="714.0" fill="none" stroke="#c0c0c0" stroke-width="1.5"/>
<circle cx="1543.1" cy="658.0" r="714.0" fill="none" stroke="#9a9a9a" stroke-width="1.5" stroke-dasharray="10 1.3"/>
<circle cx="1543.1" cy="658.0" r="785.4" fill="none" stroke="#bcbcbc" stroke-width="1.15" stroke-dasharray="4.6 3"/>
<circle cx="1543.1" cy="658.0" r="856.8" fill="none" stroke="#c0c0c0" stroke-width="1.5"/>
<circle cx="1543.1" cy="658.0" r="856.8" fill="none" stroke="#9a9a9a" stroke-width="1.5" stroke-dasharray="10 1.3"/>
<circle cx="1543.1" cy="658.0" r="928.2" fill="none" stroke="#bcbcbc" stroke-width="1.15" stroke-dasharray="4.6 3"/>
<circle cx="1543.1" cy="658.0" r="999.6" fill="none" stroke="#c0c0c0" stroke-width="1.5"/>
<circle cx="1543.1" cy="658.0" r="999.6" fill="none" stroke="#9a9a9a" stroke-width="1.5" stroke-dasharray="10 1.3"/>
<circle cx="1543.1" cy="658.0" r="1071.0" fill="none" stroke="#bcbcbc" stroke-width="1.15" stroke-dasharray="4.6 3"/>
<line x1="1389.5" y1="658.0" x2="2412.5" y2="658.0" stroke="#c4c4c4" stroke-width="1.4"/>
<line x1="1389.5" y1="658.0" x2="2412.5" y2="658.0" stroke="#8c8c8c" stroke-width="1.2" stroke-dasharray="9 3"/>
<line x1="1543.1" y1="98.3" x2="1543.1" y2="1203.3" stroke="#c4c4c4" stroke-width="1.4"/>
<line x1="1543.1" y1="98.3" x2="1543.1" y2="1203.3" stroke="#8c8c8c" stroke-width="1.2" stroke-dasharray="9 3"/>
<text x="1615.3" y="656.7" font-size="16.6" fill="#c9c9c9" font-weight="bold">10</text>
<text x="1543.4" y="584.8" font-size="16.6" fill="#c9c9c9" font-weight="bold">10</text>
<text x="1543.4" y="727.6" font-size="16.6" fill="#c9c9c9" font-weight="bold">10</text>
<text x="1758.9" y="656.7" font-size="16.6" fill="#c9c9c9" font-weight="bold">30</text>
<text x="1544.2" y="442.0" font-size="16.6" fill="#c9c9c9" font-weight="bold">30</text>
<text x="1544.2" y="870.4" font-size="16.6" fill="#c9c9c9" font-weight="bold">30</text>
<text x="1901.5" y="656.7" font-size="16.6" fill="#c9c9c9" font-weight="bold">50</text>
<text x="1544.0" y="299.2" font-size="16.6" fill="#c9c9c9" font-weight="bold">50</text>
<text x="1544.0" y="1013.2" font-size="16.6" fill="#c9c9c9" font-weight="bold">50</text>
<text x="2044.5" y="656.7" font-size="16.6" fill="#c9c9c9" font-weight="bold">70</text>
<text x="1544.2" y="156.4" font-size="16.6" fill="#c9c9c9" font-weight="bold">70</text>
<text x="1544.2" y="1156.0" font-size="16.6" fill="#c9c9c9" font-weight="bold">70</text>
<text x="2187.5" y="656.7" font-size="16.6" fill="#c9c9c9" font-weight="bold">90</text>
<text x="1544.4" y="13.6" font-size="16.6" fill="#c9c9c9" font-weight="bold">90</text>
<text x="1544.4" y="1298.8" font-size="16.6" fill="#c9c9c9" font-weight="bold">90</text>
<text x="2329.3" y="656.7" font-size="16.6" fill="#c9c9c9" font-weight="bold">110</text>
<text x="1543.4" y="-129.2" font-size="16.6" fill="#c9c9c9" font-weight="bold">110</text>
<text x="1543.4" y="1441.6" font-size="16.6" fill="#c9c9c9" font-weight="bold">110</text>
<text x="1472.4" y="656.7" font-size="16.6" fill="#c9c9c9" font-weight="bold">10</text>
<polygon points="1624.5,667.3 1655.5,648.2 1664.5,638.2 1671.8,625.5 1676.4,610.9 1680.9,602.7 1687.3,595.5 1690.5,589.5 1697.0,590.0 1754.5,690.9" fill="#eef7fa" fill-opacity="0.5"/>
<line x1="1543.1" y1="658.0" x2="1750" y2="690.2" stroke="#c9c9c9" stroke-width="4.5"/>
<polygon points="1757.5,691.3 1743.6,693.6 1745.0,685.0" fill="#c3c3c3"/>
<polygon points="1753.5,690.7 1746.2,691.9 1746.9,687.6" fill="#b0b0b0"/>
<polyline points="2109.5,647.3 2129.1,637.3 2143.6,626.4 2161.8,618.2 2180.0,607.6 2197.3,602.2 2187.3,652.7 2186.3,658.2 2170.5,658.2 2221.8,658.2 2440.0,743.5 2386.0,732.0" fill="none" stroke="#ffee9f" stroke-width="8.5" stroke-linejoin="round" stroke-linecap="round"/>
<polyline points="1918.2,643.6 1913.5,654.5 1927.3,651.8 1968.2,625.1 1983.6,629.7 1997.3,649.0 2001.0,658.2 2085.5,658.2 2098.2,651.8 2109.5,647.3" fill="none" stroke="#ffd700" stroke-width="8.5" stroke-linejoin="round" stroke-linecap="butt"/>
<polyline points="1687.3,595.5 1680.5,592.5 1690.5,589.5 1700.0,571.0 1704.2,563.2 1699.0,558.5 1696.0,566.0 1690.0,572.0 1681.0,569.1" fill="none" stroke="#ff0000" stroke-width="8.5" stroke-linejoin="round" stroke-linecap="round"/>
<polyline points="1669.1,568.2 1680.9,569.1 1693.6,575.5 1741.8,599.1 1767.3,615.5 1798.2,590.0 1845.5,562.7 1883.6,539.1 1886.0,531.0 1896.4,528.4 1894.5,538.2 1905.5,554.5 1916.4,564.5 1923.6,576.4 1928.2,586.4 1927.6,598.2 1920.9,634.5 1918.2,643.6" fill="none" stroke="#ff8c00" stroke-width="8.5" stroke-linejoin="round" stroke-linecap="round"/>
<polyline points="1624.5,667.3 1655.5,648.2 1664.5,638.2 1671.8,625.5 1676.4,610.9 1680.9,602.7 1687.3,595.5" fill="none" stroke="#800080" stroke-width="8.5" stroke-linejoin="round" stroke-linecap="butt"/>
<text x="1677.6" y="638.4" font-size="16.0" fill="#ffc870" font-weight="bold">UP</text>
<text x="1951.2" y="575.7" font-size="16.0" fill="#ffc870" font-weight="bold">DN</text>
<text x="1680.4" y="658.6" font-size="13.8" fill="#a52a2a" font-weight="bold" opacity="0.95">DTM</text>
<polygon points="1692.2,666.6 1704.8,666.6 1698.5,679" fill="#b24a4e"/>
<text x="1741.0" y="485.2" font-size="18.6" fill="#111" font-weight="bold">LM</text>
<text x="1802.8" y="594.5" font-size="18.6" fill="#111" font-weight="bold">MW</text>
<text x="1759.6" y="692.7" font-size="18.6" fill="#111" font-weight="bold">RM</text>
<circle cx="1669.1" cy="630.5" r="10.1" fill="#fff" stroke="#000" stroke-width="1.5"/>
<text x="1669.1" y="636.3" font-size="16.0" fill="#000" font-weight="bold" text-anchor="middle">.5</text>
<circle cx="1690.5" cy="589.5" r="10.1" fill="#fff" stroke="#000" stroke-width="1.5"/>
<text x="1690.5" y="595.3" font-size="16.0" fill="#000" font-weight="bold" text-anchor="middle">1</text>
<circle cx="1698.5" cy="549.5" r="10.1" fill="#fff" stroke="#000" stroke-width="1.5"/>
<text x="1698.5" y="555.3" font-size="16.0" fill="#000" font-weight="bold" text-anchor="middle">2</text>
<circle cx="1680.9" cy="569.1" r="10.1" fill="#fff" stroke="#000" stroke-width="1.5"/>
<text x="1680.9" y="574.9" font-size="16.0" fill="#000" font-weight="bold" text-anchor="middle">3</text>
<circle cx="1798.2" cy="590.5" r="10.1" fill="#fff" stroke="#000" stroke-width="1.5"/>
<text x="1798.2" y="596.3" font-size="16.0" fill="#000" font-weight="bold" text-anchor="middle">4</text>
<circle cx="1894.2" cy="538.2" r="10.1" fill="#fff" stroke="#000" stroke-width="1.5"/>
<text x="1894.2" y="544.0" font-size="16.0" fill="#000" font-weight="bold" text-anchor="middle">5</text>
<circle cx="1918.2" cy="643.3" r="10.1" fill="#fff" stroke="#000" stroke-width="1.5"/>
<text x="1918.2" y="649.1" font-size="16.0" fill="#000" font-weight="bold" text-anchor="middle">6</text>
<circle cx="1994.2" cy="658.5" r="10.1" fill="#fff" stroke="#000" stroke-width="1.5"/>
<text x="1994.2" y="664.3" font-size="16.0" fill="#000" font-weight="bold" text-anchor="middle">7</text>
<circle cx="2036.4" cy="658.5" r="10.1" fill="#fff" stroke="#000" stroke-width="1.5"/>
<text x="2036.4" y="664.3" font-size="16.0" fill="#000" font-weight="bold" text-anchor="middle">8</text>
<circle cx="2109.5" cy="647.3" r="10.1" fill="#fff" stroke="#000" stroke-width="1.5"/>
<text x="2109.5" y="653.1" font-size="16.0" fill="#000" font-weight="bold" text-anchor="middle">9</text>
<circle cx="2221.5" cy="658.5" r="10.1" fill="#fff" stroke="#000" stroke-width="1.5"/>
<text x="2221.5" y="664.3" font-size="16.0" fill="#000" font-weight="bold" text-anchor="middle">11</text>
<text x="1410.4" y="124.5" font-size="20.83" fill="#666" font-weight="bold">SM: RIGHT MOVING | E @ 29 kts</text>
<text x="1409.9" y="154.6" font-size="20.83" fill="#666">RM: E @ 29 kts</text>
<text x="1409.9" y="194.6" font-size="20.83" fill="#666">LM: NE @ 36 kts</text>
<text x="1409.9" y="233.5" font-size="20.83" fill="#666">MW: ENE @ 37 kts</text>
<text x="1403.0" y="272.8" font-size="20.83" fill="#666">DTM: E @ 21 kts</text>
<text x="1410.1" y="311.4" font-size="20.83" fill="#666">US: E @ 20 kts</text>
<text x="1409.9" y="350.5" font-size="20.83" fill="#666">DS: E @ 60 kts</text>
</g>
<rect x="2192.5" y="1021.9" width="219.9" height="181.3" fill="#fff"/>
<text x="2209.1" y="1048.8" font-size="18.2" fill="#111" font-weight="bold">0-3ₖₘ SRH,</text>
<text x="2337.4" y="1048.8" font-size="18.2" fill="#111" font-weight="bold">BWD</text>
<text x="2215.4" y="1079.5" font-size="18.2" fill="#4169e1" font-weight="bold">52 m²/s²</text>
<text x="2334.3" y="1079.5" font-size="18.2" fill="#4169e1" font-weight="bold">15 kt</text>
<text x="2209.1" y="1109.1" font-size="18.2" fill="#111" font-weight="bold">0-6ₖₘ SRH,</text>
<text x="2337.4" y="1109.1" font-size="18.2" fill="#111" font-weight="bold">BWD</text>
<text x="2209.5" y="1137.0" font-size="18.2" fill="#4169e1" font-weight="bold">244 m²/s²</text>
<text x="2334.9" y="1137.0" font-size="18.2" fill="#4169e1" font-weight="bold">40 kt</text>
<text x="2202.4" y="1167.7" font-size="18.2" fill="#111" font-weight="bold">SCP</text>
<text x="2257.6" y="1167.7" font-size="18.2" fill="#111" font-weight="bold">STP</text>
<text x="2315.4" y="1165.8" font-size="18.2" fill="#111" font-weight="bold">EHI</text>
<text x="2370.0" y="1165.8" font-size="18.2" fill="#111" font-weight="bold">EHI</text>
<text x="2312.2" y="1176.9" font-size="8.6" fill="#111" font-weight="bold" textLength="40.6" lengthAdjust="spacingAndGlyphs">0–1km</text>
<text x="2367.0" y="1176.9" font-size="8.6" fill="#111" font-weight="bold" textLength="40.6" lengthAdjust="spacingAndGlyphs">0–3km</text>
<text x="2211.0" y="1193.2" font-size="18.2" fill="#b22222" font-weight="bold">---</text>
<text x="2266.2" y="1193.2" font-size="18.2" fill="#b22222" font-weight="bold">---</text>
<text x="2326.7" y="1193.2" font-size="18.2" fill="#ff4500" font-weight="bold">0</text>
<text x="2381.8" y="1193.2" font-size="18.2" fill="#ff4500" font-weight="bold">0</text>
<rect x="1389.6" y="943.3" width="259.8" height="259.9" fill="#fff"/>
<g clip-path="url(#cmap)" fill="none" stroke="#b4b4b4" stroke-width="0.8">
<polyline points="1496.7,943.3 1496.7,958.7"/>
<polyline points="1531.5,943.3 1531.5,958.7"/>
<polyline points="1565.6,943.3 1565.6,958.7"/>
<polyline points="1599.4,943.3 1599.4,958.7"/>
<polyline points="1634.6,943.3 1634.6,958.7"/>
<polyline points="1462.4,958.7 1649.4,958.7"/>
<polyline points="1491.7,958.7 1492.2,1046.7"/>
<polyline points="1525.7,958.7 1526.3,1046.7"/>
<polyline points="1559.6,958.7 1560.2,1046.7"/>
<polyline points="1593.5,958.7 1594.1,1046.7"/>
<polyline points="1627.6,958.7 1628.1,1046.7"/>
<polyline points="1462.4,990.2 1649.4,990.2"/>
<polyline points="1462.4,1018.5 1649.4,1018.5"/>
<polyline points="1462.4,1046.7 1649.4,1046.7"/>
<polyline points="1517.4,1046.7 1517.4,1103.5"/>
<polyline points="1551.3,1046.7 1551.3,1103.5"/>
<polyline points="1584.6,1046.7 1584.6,1103.5"/>
<polyline points="1618.3,1046.7 1618.3,1103.5"/>
<polyline points="1462.4,1075.4 1649.4,1075.4"/>
<polyline points="1462.4,1103.5 1649.4,1103.5"/>
<polyline points="1444.4,1103.5 1444.4,1131.3"/>
<polyline points="1479.6,1103.5 1479.6,1131.3"/>
<polyline points="1512.8,1103.5 1512.8,1131.3"/>
<polyline points="1545.4,1103.5 1545.4,1131.3"/>
<polyline points="1578.5,1103.5 1578.5,1131.3"/>
<polyline points="1607.4,1103.5 1607.4,1129.1"/>
<polyline points="1645.7,1103.5 1645.7,1135.6 1649.4,1136.5"/>
<polyline points="1426.3,1131.3 1578.5,1131.3"/>
<polyline points="1481.5,1131.3 1482.0,1168.5"/>
<polyline points="1510.9,1131.3 1511.5,1168.5"/>
<polyline points="1545.4,1131.3 1545.9,1168.5"/>
<polyline points="1578.5,1131.3 1579.1,1168.5"/>
<polyline points="1616.7,1140.2 1616.7,1168.5"/>
<polyline points="1505.9,1168.5 1649.4,1168.5"/>
<polyline points="1598.5,1168.5 1598.5,1203.1"/>
<polyline points="1598.5,1193.0 1649.4,1193.0"/>
<polyline points="1578.5,1137.4 1605.0,1137.4 1607.4,1129.1 1645.7,1129.1"/>
<polyline points="1578.5,1139.3 1616.7,1140.2"/>
<polyline points="1508.3,1203.1 1508.3,1200.4 1522.6,1200.4 1522.6,1196.7 1546.7,1196.7"/>
<polyline points="1399.4,1110.6 1405.9,1115.2 1413.3,1122.6 1426.3,1130.9 1432.8,1133.7 1436.5,1144.8 1443.0,1147.0 1454.1,1150.4 1465.2,1150.4 1477.2,1156.3 1487.4,1152.6 1500.4,1159.6 1506.9,1168.9 1518.9,1173.5 1531.9,1175.4 1539.3,1180.0 1543.0,1193.0 1554.1,1198.5 1555.0,1203.1"/>
<polyline points="1399.4,1110.6 1394.8,1167.0 1390.2,1169.8"/>
<polyline points="1394.8,1167.0 1447.6,1203.1"/>
<polyline points="1465.2,1150.4 1428.1,1189.3"/>
<polyline points="1436.5,1196.7 1427.2,1203.1"/>
<polyline points="1404.4,943.3 1404.4,973.5"/>
<polyline points="1418.3,943.3 1418.3,959.1 1462.4,959.1"/>
<polyline points="1391.1,979.1 1391.1,973.5 1411.5,973.5 1411.5,990.6 1419.3,990.6 1419.3,1001.3 1433.3,1001.3 1433.3,1007.2"/>
<polyline points="1419.3,1007.2 1460.6,1007.2"/>
<polyline points="1419.3,1007.2 1419.3,1018.3 1416.5,1018.3 1416.5,1046.7"/>
<polyline points="1389.6,1046.7 1416.5,1046.7"/>
<polyline points="1413.3,1046.7 1413.3,1075.4 1419.4,1075.4 1419.4,1107.8"/>
</g>
<polyline points="1462.4,943.3 1462.4,1109.1 1389.6,1109.1" fill="none" stroke="#111" stroke-width="2.8" stroke-linejoin="miter"/>
<circle cx="1519.3" cy="1112.4" r="7.4" fill="none" stroke="#000" stroke-width="2.4"/>
<line x1="1506.6" y1="1112.4" x2="1532.0" y2="1112.4" stroke="#000" stroke-width="3.6"/>
<line x1="1519.3" y1="1100.0" x2="1519.3" y2="1124.8" stroke="#000" stroke-width="1.9"/>
<rect x="31.6" y="1203.4" width="892.7" height="233.8" fill="#fff"/>
<text x="131.2" y="1242.6" font-size="20.83" fill="#000" font-weight="bold">SR-ECAPE</text>
<text x="297.3" y="1242.6" font-size="20.83" fill="#000" font-weight="bold">CAPE</text>
<text x="422.8" y="1242.6" font-size="20.83" fill="#000" font-weight="bold">6CAPE</text>
<text x="563.7" y="1242.6" font-size="20.83" fill="#000" font-weight="bold">3CAPE</text>
<text x="711.3" y="1242.6" font-size="20.83" fill="#000" font-weight="bold">CIN</text>
<text x="837.9" y="1242.6" font-size="20.83" fill="#000" font-weight="bold">LCL</text>
<text x="44.3" y="1281.9" font-size="20.83" fill="#000" font-weight="bold">SB:</text>
<text x="131.6" y="1281.9" font-size="20.83" fill="#b22222" font-weight="bold">--- J/kg</text>
<text x="274.3" y="1281.9" font-size="20.83" fill="#ff4500" font-weight="bold">0 J/kg</text>
<text x="417.1" y="1281.9" font-size="20.83" fill="#ff4500" font-weight="bold">0 J/kg</text>
<text x="558.6" y="1281.9" font-size="20.83" fill="#ff4500" font-weight="bold">0 J/kg</text>
<text x="692.7" y="1281.9" font-size="20.83" fill="#ff4500" font-weight="bold">0 J/kg</text>
<text x="824.4" y="1281.9" font-size="20.83" fill="#ff4500" font-weight="bold">5199 m</text>
<text x="43.9" y="1320.9" font-size="20.83" fill="#000" font-weight="bold">MU:</text>
<text x="131.6" y="1320.9" font-size="20.83" fill="#b22222" font-weight="bold">--- J/kg</text>
<text x="274.3" y="1320.9" font-size="20.83" fill="#ff4500" font-weight="bold">0 J/kg</text>
<text x="417.1" y="1320.9" font-size="20.83" fill="#ff4500" font-weight="bold">0 J/kg</text>
<text x="558.6" y="1320.9" font-size="20.83" fill="#ff4500" font-weight="bold">0 J/kg</text>
<text x="692.7" y="1320.9" font-size="20.83" fill="#ff4500" font-weight="bold">0 J/kg</text>
<text x="824.4" y="1320.9" font-size="20.83" fill="#ff4500" font-weight="bold">5199 m</text>
<text x="43.9" y="1359.6" font-size="20.83" fill="#000" font-weight="bold">ML:</text>
<text x="131.6" y="1359.6" font-size="20.83" fill="#b22222" font-weight="bold">--- J/kg</text>
<text x="274.3" y="1359.6" font-size="20.83" fill="#ff4500" font-weight="bold">0 J/kg</text>
<text x="417.1" y="1359.6" font-size="20.83" fill="#ff4500" font-weight="bold">0 J/kg</text>
<text x="558.6" y="1359.6" font-size="20.83" fill="#ff4500" font-weight="bold">0 J/kg</text>
<text x="692.7" y="1359.6" font-size="20.83" fill="#ff4500" font-weight="bold">0 J/kg</text>
<text x="824.4" y="1359.6" font-size="20.83" fill="#ff4500" font-weight="bold">5829 m</text>
<text x="43.9" y="1393.7" font-size="20.83" fill="#000" font-weight="bold">DCAPE:</text>
<text x="141.3" y="1393.7" font-size="20.83" fill="#93b4f2" font-weight="bold">1198 J/kg</text>
<text x="43.9" y="1419.5" font-size="20.83" fill="#000" font-weight="bold">DCIN:</text>
<text x="142.6" y="1419.5" font-size="20.83" fill="#93b4f2" font-weight="bold">0 J/kg</text>
<text x="285.9" y="1412.6" font-size="20.83" fill="#000" font-weight="bold">MUNCAPE:</text>
<text x="413.6" y="1412.6" font-size="20.83" fill="#c47c7c" font-weight="bold">--</text>
<text x="494.8" y="1412.6" font-size="20.83" fill="#000" font-weight="bold">Γ₀₋₃:</text>
<text x="559.8" y="1412.6" font-size="20.83" fill="#8b4513" font-weight="bold">10 Δ°C/km</text>
<text x="692.5" y="1412.6" font-size="20.83" fill="#000" font-weight="bold">Γ₃₋₆:</text>
<text x="765.1" y="1412.6" font-size="20.83" fill="#8b4513" font-weight="bold">6 Δ°C/km</text>
<ellipse cx="77.0" cy="1476.1" rx="32.4" ry="31.8" fill="#e4e9f7" stroke="#1a2030" stroke-width="1.4"/>
<polyline points="68.0,1452.0 70.0,1458.0 66.0,1466.0" fill="none" stroke="#9fd6b0" stroke-width="0.8" stroke-opacity="0.6"/>
<polyline points="75.0,1447.0 69.0,1455.0 67.0,1462.0 68.0,1470.0" fill="none" stroke="#f0a0a0" stroke-width="0.8" stroke-opacity="0.7"/>
<polyline points="73.0,1447.0 78.0,1460.0 84.0,1480.0 92.0,1497.0" fill="none" stroke="#f0b8b8" stroke-width="0.8" stroke-opacity="0.6"/>
<polyline points="58.0,1478.0 68.0,1481.0 59.0,1484.0 70.0,1487.0 62.0,1490.0 73.0,1492.0 64.0,1495.0" fill="none" stroke="#a8dcb8" stroke-width="1.0" stroke-opacity="0.8"/>
<text x="75.5" y="1473.6" font-size="12.9" fill="#000" font-weight="bold" text-anchor="middle" textLength="55.6" lengthAdjust="spacingAndGlyphs">SOUNDER</text>
<text transform="translate(77.6,1488.7) scale(1.08,1)" font-size="20.6" fill="#3a8c2a">P</text>
<text transform="translate(93.3,1488.7) scale(1.2,1)" font-size="20.6" fill="#d01010">Y</text>
<line x1="58.4" y1="1498.0" x2="96.1" y2="1498.0" stroke="#222" stroke-width="1.5" stroke-dasharray="2.2 0.9"/>
<line x1="65.1" y1="1501.6" x2="89.9" y2="1501.6" stroke="#222" stroke-width="1.3" stroke-dasharray="1.7 0.9"/>
<text x="133.9" y="1470.3" font-size="27.72" fill="#a3bff4" font-weight="bold">SOUNDERPY VERTICAL PROFILE ANALYSIS TOOL</text>
<text x="206.1" y="1496.6" font-size="20.76" fill="#a3bff4" font-weight="bold">(C) KYLE J GILLETT | sounderpysoundings.anvil.app</text>
<rect x="924.3" y="1203.4" width="330.0" height="298.6" fill="#fff"/>
<text x="1039.8" y="1242.5" font-size="20.83" fill="#000" font-weight="bold">RH(%)</text>
<text x="1163.7" y="1242.5" font-size="20.83" fill="#000" font-weight="bold">ω</text>
<text x="945.7" y="1281.4" font-size="20.83" fill="#000" font-weight="bold">0-.5ₖₘ:</text>
<line x1="949" y1="1259.9" x2="980" y2="1259.9" stroke="#000" stroke-width="1.5"/>
<text x="1044.7" y="1281.4" font-size="20.83" fill="#228b22" font-weight="bold" opacity="1.0">4 %</text>
<text x="1120.6" y="1281.4" font-size="20.83" fill="#228b22" font-weight="bold" opacity="1.0">1.7 g/kg</text>
<text x="945.7" y="1320.6" font-size="20.83" fill="#000" font-weight="bold">0-1ₖₘ:</text>
<line x1="949" y1="1299.1" x2="980" y2="1299.1" stroke="#000" stroke-width="1.5"/>
<text x="1044.2" y="1320.6" font-size="20.83" fill="#228b22" font-weight="bold" opacity="0.9">3 %</text>
<text x="1120.6" y="1320.6" font-size="20.83" fill="#228b22" font-weight="bold" opacity="0.9">1.3 g/kg</text>
<text x="944.4" y="1359.8" font-size="20.83" fill="#000" font-weight="bold">1-3ₖₘ:</text>
<line x1="949" y1="1338.3" x2="980" y2="1338.3" stroke="#000" stroke-width="1.5"/>
<text x="1044.0" y="1359.8" font-size="20.83" fill="#228b22" font-weight="bold" opacity="0.8">5 %</text>
<text x="1121.9" y="1359.8" font-size="20.83" fill="#228b22" font-weight="bold" opacity="0.8">0.8 g/kg</text>
<text x="945.3" y="1398.7" font-size="20.83" fill="#000" font-weight="bold">3-6ₖₘ:</text>
<line x1="949" y1="1377.2" x2="980" y2="1377.2" stroke="#000" stroke-width="1.5"/>
<text x="1044.2" y="1398.7" font-size="20.83" fill="#228b22" font-weight="bold" opacity="0.7">3 %</text>
<text x="1121.9" y="1398.7" font-size="20.83" fill="#228b22" font-weight="bold" opacity="0.7">0.2 g/kg</text>
<text x="945.4" y="1437.7" font-size="20.83" fill="#000" font-weight="bold">6-9ₖₘ:</text>
<line x1="949" y1="1416.2" x2="980" y2="1416.2" stroke="#000" stroke-width="1.5"/>
<text x="1043.3" y="1437.7" font-size="20.83" fill="#228b22" font-weight="bold" opacity="0.6">19 %</text>
<text x="1121.9" y="1437.7" font-size="20.83" fill="#228b22" font-weight="bold" opacity="0.6">0.3 g/kg</text>
<text x="946.6" y="1467.3" font-size="16.6" fill="#000" font-weight="bold">PWAT:</text>
<text x="1017.9" y="1467.3" font-size="16.6" fill="#006400" font-weight="bold">0.139 in</text>
<text x="1114.9" y="1467.3" font-size="16.6" fill="#000" font-weight="bold">WB:</text>
<text x="1174.2" y="1467.3" font-size="16.6" fill="#006400" font-weight="bold">14 °C</text>
<text x="946.6" y="1492.7" font-size="16.6" fill="#000" font-weight="bold">FRZ:</text>
<text x="1024.7" y="1492.7" font-size="16.6" fill="#6495ed" font-weight="bold">3700m</text>
<text x="1109.3" y="1492.7" font-size="16.6" fill="#000" font-weight="bold">WB0:</text>
<text x="1169.5" y="1492.7" font-size="16.6" fill="#6495ed" font-weight="bold">2300m</text>
<rect x="1254.3" y="1203.4" width="583.3" height="298.6" fill="#fff"/>
<text x="1374.0" y="1242.6" font-size="20.83" fill="#333" font-weight="bold">BWD</text>
<text x="1479.5" y="1242.6" font-size="20.83" fill="#333" font-weight="bold">SRH</text>
<text x="1578.7" y="1242.6" font-size="20.83" fill="#333" font-weight="bold">SRW</text>
<text x="1654.6" y="1242.6" font-size="20.83" fill="#333" font-weight="bold">SWζ%</text>
<text x="1754.8" y="1242.6" font-size="20.83" fill="#333" font-weight="bold">SWζ</text>
<text x="1273.8" y="1281.8" font-size="20.83" fill="#1a1a1a" font-weight="bold">0-.5ₖₘ:</text>
<text x="1368.3" y="1281.8" font-size="20.83" fill="#6495ed" font-weight="bold">7 kt</text>
<text x="1449.2" y="1281.8" font-size="20.83" fill="#6495ed" font-weight="bold">26 m²/s²</text>
<text x="1577.9" y="1281.8" font-size="20.83" fill="#6495ed" font-weight="bold">16 kt</text>
<text x="1672.2" y="1281.8" font-size="20.83" fill="#6495ed" font-weight="bold">80</text>
<text x="1748.6" y="1281.8" font-size="20.83" fill="#6495ed" font-weight="bold">0.006</text>
<text x="1273.8" y="1321.0" font-size="20.83" fill="#1a1a1a" font-weight="bold">0-1ₖₘ:</text>
<text x="1367.4" y="1321.0" font-size="20.83" fill="#7b68ee" font-weight="bold">13 kt</text>
<text x="1449.2" y="1321.0" font-size="20.83" fill="#7b68ee" font-weight="bold">51 m²/s²</text>
<text x="1577.9" y="1321.0" font-size="20.83" fill="#7b68ee" font-weight="bold">17 kt</text>
<text x="1672.2" y="1321.0" font-size="20.83" fill="#7b68ee" font-weight="bold">87</text>
<text x="1748.6" y="1321.0" font-size="20.83" fill="#7b68ee" font-weight="bold">0.007</text>
<text x="1272.5" y="1359.9" font-size="20.83" fill="#1a1a1a" font-weight="bold">1-3ₖₘ:</text>
<text x="1368.3" y="1359.9" font-size="20.83" fill="#4169e1" font-weight="bold">3 kt</text>
<text x="1448.5" y="1359.9" font-size="20.83" fill="#4169e1" font-weight="bold">1 m²/s²</text>
<text x="1577.9" y="1359.9" font-size="20.83" fill="#4169e1" font-weight="bold">18 kt</text>
<text x="1671.9" y="1359.9" font-size="20.83" fill="#4169e1" font-weight="bold">51</text>
<text x="1748.6" y="1359.9" font-size="20.83" fill="#4169e1" font-weight="bold">0.003</text>
<text x="1273.4" y="1398.8" font-size="20.83" fill="#1a1a1a" font-weight="bold">3-6ₖₘ:</text>
<text x="1368.3" y="1398.8" font-size="20.83" fill="#0000cd" font-weight="bold">34 kt</text>
<text x="1448.5" y="1398.8" font-size="20.83" fill="#0000cd" font-weight="bold">192 m²/s²</text>
<text x="1578.6" y="1398.8" font-size="20.83" fill="#0000cd" font-weight="bold">21 kt</text>
<text x="1672.2" y="1398.8" font-size="20.83" fill="#0000cd" font-weight="bold">68</text>
<text x="1748.6" y="1398.8" font-size="20.83" fill="#0000cd" font-weight="bold">0.006</text>
<text x="1273.5" y="1438.0" font-size="20.83" fill="#1a1a1a" font-weight="bold">6-9ₖₘ:</text>
<text x="1368.1" y="1438.0" font-size="20.83" fill="#000080" font-weight="bold">26 kt</text>
<text x="1449.9" y="1438.0" font-size="20.83" fill="#000080" font-weight="bold">40 m²/s²</text>
<text x="1578.8" y="1438.0" font-size="20.83" fill="#000080" font-weight="bold">36 kt</text>
<text x="1671.9" y="1438.0" font-size="20.83" fill="#000080" font-weight="bold">25</text>
<text x="1748.6" y="1438.0" font-size="20.83" fill="#000080" font-weight="bold">0.002</text>
<text x="1272.9" y="1476.9" font-size="20.83" fill="#1a1a1a" font-weight="bold">EIL:</text>
<text x="1368.6" y="1476.9" font-size="20.83" fill="#000080" font-weight="bold">--- kt</text>
<text x="1449.7" y="1476.9" font-size="20.83" fill="#000080" font-weight="bold">--- m²/s²</text>
<text x="1579.1" y="1476.9" font-size="20.83" fill="#000080" font-weight="bold">--- kt</text>
<text x="1671.8" y="1476.9" font-size="20.83" fill="#000080" font-weight="bold">nan</text>
<text x="1747.9" y="1476.9" font-size="20.83" fill="#000080" font-weight="bold">nan</text>
<rect x="1837.6" y="1203.6" width="142.8" height="298.4" fill="#fff"/>
<rect x="1980.4" y="1203.6" width="144.0" height="298.4" fill="#fff"/>
<rect x="2124.4" y="1203.6" width="145.2" height="298.4" fill="#fff"/>
<rect x="2269.6" y="1203.6" width="142.9" height="298.4" fill="#fff"/>
<g clip-path="url(#cp1)">
<polygon points="1637.6,1198.6 1922.7,1203.8 1894.6,1213.8 1837.7,1224.2 1725.8,1241.9 1725.8,1259.6 1837.7,1268.3 1892.5,1273.1 1893.5,1282.5 1837.7,1292.9 1821.7,1294.2 1971.7,1302.9 1837.7,1316.9 1767.5,1328.3 1837.7,1338.8 1946.7,1352.9 1963.3,1362.7 1964.4,1372.1 1908.1,1382.5 1973.3,1392.9 1874.8,1403.3 1954.0,1412.7 1967.1,1422.7 1958.1,1432.5 1962.3,1441.9 1975.4,1453.3 1974.8,1462.7 1955.0,1473.1 1920.6,1482.5 1897.7,1502.3 1892.5,1507.5 1637.6,1507.0" fill="#dfe8fb"/>
<line x1="1837.6" y1="1253.3" x2="1980.4" y2="1253.3" stroke="#999" stroke-width="1.1"/>
<line x1="1837.6" y1="1303.3" x2="1980.4" y2="1303.3" stroke="#999" stroke-width="1.1"/>
<line x1="1837.6" y1="1353.6" x2="1980.4" y2="1353.6" stroke="#999" stroke-width="1.1"/>
<line x1="1837.6" y1="1403.3" x2="1980.4" y2="1403.3" stroke="#999" stroke-width="1.1"/>
<line x1="1837.6" y1="1453.3" x2="1980.4" y2="1453.3" stroke="#999" stroke-width="1.1"/>
<text x="1860.8" y="1496.7" font-size="12.9" fill="#8a8a8a" font-weight="bold" font-style="italic" text-anchor="middle">50</text>
<text x="1907.5" y="1496.7" font-size="12.9" fill="#8a8a8a" font-weight="bold" font-style="italic" text-anchor="middle">70</text>
<text x="1953.3" y="1496.7" font-size="12.9" fill="#8a8a8a" font-weight="bold" font-style="italic" text-anchor="middle">90</text>
<polyline points="1922.7,1203.8 1894.6,1213.8 1837.7,1224.2 1725.8,1241.9 1725.8,1259.6 1837.7,1268.3 1892.5,1273.1 1893.5,1282.5 1837.7,1292.9 1821.7,1294.2 1971.7,1302.9 1837.7,1316.9 1767.5,1328.3 1837.7,1338.8 1946.7,1352.9 1963.3,1362.7 1964.4,1372.1 1908.1,1382.5 1973.3,1392.9 1874.8,1403.3" fill="none" stroke="#ff0000" stroke-width="3.0" stroke-linejoin="miter"/>
<polyline points="1874.8,1403.3 1954.0,1412.7 1967.1,1422.7 1958.1,1432.5 1962.3,1441.9 1975.4,1453.3 1974.8,1462.7 1955.0,1473.1 1920.6,1482.5 1897.7,1502.3 1892.5,1507.5" fill="none" stroke="#800080" stroke-width="3.0" stroke-linejoin="miter"/>
<text x="1852.9" y="1303.6" font-size="13.9" fill="#000" font-weight="bold">2 km</text>
<text x="1852.4" y="1352.9" font-size="13.9" fill="#000" font-weight="bold">1.5 km</text>
<text x="1852.4" y="1402.7" font-size="13.9" fill="#000" font-weight="bold">1 km</text>
<text x="1852.6" y="1452.9" font-size="13.9" fill="#000" font-weight="bold">.5 km</text>
<text x="1910.2" y="1226.7" font-size="13.9" fill="#000" font-weight="bold" text-anchor="middle">Streamwiseness</text>
<text x="1910.2" y="1242.5" font-size="13.9" fill="#000" font-weight="bold" text-anchor="middle">of ζ (%)</text>
</g>
<g clip-path="url(#cp2)">
<polygon points="1980.4,1198.6 1991.5,1203.8 1988.8,1238.8 1983.1,1250.2 1983.1,1255.4 1991.5,1263.8 2006.0,1273.1 2008.1,1283.5 1984.2,1292.5 1989.4,1302.3 1985.2,1312.7 1989.4,1328.3 1991.5,1341.9 1999.8,1353.3 2002.5,1361.7 1983.1,1382.5 1988.8,1391.9 1982.5,1402.3 1994.6,1420.0 2001.9,1441.9 1999.8,1472.1 2000.4,1502.3 2000.4,1507.5 1980.4,1507.0" fill="#ecdabb"/>
<polygon points="1991.5,1263.8 2006.0,1273.1 2008.1,1283.5 1984.2,1292.5 1983.1,1292.5 1997.7,1282.5 1996.7,1274.2" fill="#ececec"/>
<line x1="1980.4" y1="1253.3" x2="2124.4" y2="1253.3" stroke="#999" stroke-width="1.1"/>
<line x1="1980.4" y1="1303.3" x2="2124.4" y2="1303.3" stroke="#999" stroke-width="1.1"/>
<line x1="1980.4" y1="1353.6" x2="2124.4" y2="1353.6" stroke="#999" stroke-width="1.1"/>
<line x1="1980.4" y1="1403.3" x2="2124.4" y2="1403.3" stroke="#999" stroke-width="1.1"/>
<line x1="1980.4" y1="1453.3" x2="2124.4" y2="1453.3" stroke="#999" stroke-width="1.1"/>
<polyline points="1989.4,1203.8 1986.2,1238.8 1981.7,1250.2 1981.7,1261.7 1996.7,1274.2 1997.7,1282.5 1983.1,1292.5 1988.3,1302.3 1983.8,1312.7 1984.6,1338.8 1994.6,1353.3 2001.9,1361.7 1982.5,1382.5 1988.3,1391.9 1982.1,1402.3 1994.2,1420.0 2001.2,1441.9 1995.6,1476.2 1992.9,1502.3 1992.9,1507.5" fill="none" stroke="#f7a928" stroke-width="2.6" stroke-linejoin="round"/>
<polyline points="1991.5,1203.8 1988.8,1238.8 1983.1,1250.2 1983.1,1255.4 1991.5,1263.8 2006.0,1273.1 2008.1,1283.5 1984.2,1292.5 1989.4,1302.3 1985.2,1312.7 1989.4,1328.3 1991.5,1341.9 1999.8,1353.3 2002.5,1361.7 1983.1,1382.5 1988.8,1391.9 1982.5,1402.3 1994.6,1420.0 2001.9,1441.9 1999.8,1472.1 2000.4,1502.3 2000.4,1507.5" fill="none" stroke="#8f8f8f" stroke-width="3.8" stroke-linejoin="round"/>
<polyline points="1983.1,1292.5 1988.8,1302.3 1984.2,1312.7 1988.3,1328.3 1990.8,1341.9 1998.8,1353.3 2001.9,1361.7 1982.5,1382.5 1988.3,1391.9 1982.1,1402.3 1994.2,1420.0 2001.2,1441.9 1999.2,1472.1 1998.3,1502.3 1998.3,1507.5" fill="none" stroke="#8a5a17" stroke-width="3.8" stroke-linejoin="round" stroke-opacity="0.9"/>
<text x="2052.9" y="1233.5" font-size="16.6" fill="#111" font-weight="bold" text-anchor="middle">Total ζ &amp;</text>
<text x="2052.9" y="1251.3" font-size="16.6" fill="#111" font-weight="bold" text-anchor="middle">Streamwise ζ</text>
<text x="2052.9" y="1268.4" font-size="16.6" fill="#111" font-weight="bold" text-anchor="middle">(/sec)</text>
<text x="2005.0" y="1496.7" font-size="12.9" fill="#8a8a8a" font-weight="bold" font-style="italic" text-anchor="middle">.01</text>
<text x="2053.3" y="1496.7" font-size="12.9" fill="#8a8a8a" font-weight="bold" font-style="italic" text-anchor="middle">.03</text>
<text x="2102.9" y="1496.7" font-size="12.9" fill="#8a8a8a" font-weight="bold" font-style="italic" text-anchor="middle">.05</text>
</g>
<g clip-path="url(#cp3)">
<polygon points="2124.4,1198.6 2159.2,1203.8 2150.4,1244.0 2147.3,1253.3 2152.5,1273.1 2162.5,1283.5 2165.0,1292.9 2164.6,1311.7 2152.1,1355.4 2149.4,1374.2 2147.9,1403.3 2144.8,1432.5 2141.0,1442.9 2140.0,1455.4 2141.7,1472.1 2153.1,1502.3 2155.0,1507.5 2124.4,1507.0" fill="#dfe8fb"/>
<line x1="2124.4" y1="1253.3" x2="2269.6" y2="1253.3" stroke="#999" stroke-width="1.1"/>
<line x1="2124.4" y1="1303.3" x2="2269.6" y2="1303.3" stroke="#999" stroke-width="1.1"/>
<line x1="2124.4" y1="1353.6" x2="2269.6" y2="1353.6" stroke="#999" stroke-width="1.1"/>
<line x1="2124.4" y1="1403.3" x2="2269.6" y2="1403.3" stroke="#999" stroke-width="1.1"/>
<line x1="2124.4" y1="1453.3" x2="2269.6" y2="1453.3" stroke="#999" stroke-width="1.1"/>
<polyline points="2159.2,1203.8 2150.4,1244.0 2147.3,1253.3 2152.5,1273.1 2162.5,1283.5 2165.0,1292.9 2164.6,1311.7 2152.1,1355.4 2149.4,1374.2 2147.9,1403.3" fill="none" stroke="#ff0000" stroke-width="4.0" stroke-linejoin="round" stroke-opacity="0.8"/>
<polyline points="2147.9,1403.3 2144.8,1432.5 2141.0,1442.9 2140.0,1455.4 2141.7,1472.1 2153.1,1502.3 2155.0,1507.5" fill="none" stroke="#800080" stroke-width="4.0" stroke-linejoin="round" stroke-opacity="0.8"/>
<text x="2195.8" y="1238.8" font-size="16.6" fill="#111" font-weight="bold" text-anchor="middle">Storm Relative</text>
<text x="2195.8" y="1255.8" font-size="16.6" fill="#111" font-weight="bold" text-anchor="middle">Wind (kts)</text>
<text x="2161.3" y="1496.7" font-size="12.9" fill="#8a8a8a" font-weight="bold" font-style="italic" text-anchor="middle">20</text>
<text x="2197.3" y="1496.7" font-size="12.9" fill="#8a8a8a" font-weight="bold" font-style="italic" text-anchor="middle">30</text>
<text x="2233.3" y="1496.7" font-size="12.9" fill="#8a8a8a" font-weight="bold" font-style="italic" text-anchor="middle">40</text>
</g>
<g clip-path="url(#cp4)">
<line x1="2269.6" y1="1253.3" x2="2412.5" y2="1253.3" stroke="#999" stroke-width="1.1"/>
<line x1="2269.6" y1="1303.3" x2="2412.5" y2="1303.3" stroke="#999" stroke-width="1.1"/>
<line x1="2269.6" y1="1353.6" x2="2412.5" y2="1353.6" stroke="#999" stroke-width="1.1"/>
<line x1="2269.6" y1="1403.3" x2="2412.5" y2="1403.3" stroke="#999" stroke-width="1.1"/>
<line x1="2269.6" y1="1453.3" x2="2412.5" y2="1453.3" stroke="#999" stroke-width="1.1"/>
<line x1="2340" y1="1203.6" x2="2340" y2="1502.0" stroke="#1f77b4" stroke-width="1.8" stroke-dasharray="1.8 4.4"/>
<text x="2338.4" y="1233.5" font-size="16.6" fill="#111" font-weight="bold" text-anchor="middle">Stepwise</text>
<text x="2342.1" y="1251.7" font-size="16.6" fill="#111" font-weight="bold" text-anchor="middle">CIN &amp; CAPE</text>
<text x="2342.1" y="1269.0" font-size="16.6" fill="#111" font-weight="bold" text-anchor="middle">(J/kg)</text>
<text transform="translate(2292.0,1485.8) rotate(-45)" font-size="12.9" fill="#8a8a8a" font-weight="bold" font-style="italic" text-anchor="middle" dominant-baseline="central">-200</text>
<text transform="translate(2316.2,1485.8) rotate(-45)" font-size="12.9" fill="#8a8a8a" font-weight="bold" font-style="italic" text-anchor="middle" dominant-baseline="central">-100</text>
<text transform="translate(2339.5,1485.8) rotate(-45)" font-size="12.9" fill="#8a8a8a" font-weight="bold" font-style="italic" text-anchor="middle" dominant-baseline="central">0</text>
<text transform="translate(2364.1,1485.8) rotate(-45)" font-size="12.9" fill="#8a8a8a" font-weight="bold" font-style="italic" text-anchor="middle" dominant-baseline="central">1K</text>
<text transform="translate(2388.0,1485.8) rotate(-45)" font-size="12.9" fill="#8a8a8a" font-weight="bold" font-style="italic" text-anchor="middle" dominant-baseline="central">2K</text>
</g>
<line x1="1860.8" y1="1497.2" x2="1860.8" y2="1502.0" stroke="#000" stroke-width="1.2"/>
<line x1="1907.5" y1="1497.2" x2="1907.5" y2="1502.0" stroke="#000" stroke-width="1.2"/>
<line x1="1953.3" y1="1497.2" x2="1953.3" y2="1502.0" stroke="#000" stroke-width="1.2"/>
<line x1="2005" y1="1497.2" x2="2005" y2="1502.0" stroke="#000" stroke-width="1.2"/>
<line x1="2053.3" y1="1497.2" x2="2053.3" y2="1502.0" stroke="#000" stroke-width="1.2"/>
<line x1="2102.9" y1="1497.2" x2="2102.9" y2="1502.0" stroke="#000" stroke-width="1.2"/>
<line x1="2161.3" y1="1497.2" x2="2161.3" y2="1502.0" stroke="#000" stroke-width="1.2"/>
<line x1="2197.3" y1="1497.2" x2="2197.3" y2="1502.0" stroke="#000" stroke-width="1.2"/>
<line x1="2233.3" y1="1497.2" x2="2233.3" y2="1502.0" stroke="#000" stroke-width="1.2"/>
<line x1="2292.5" y1="1497.2" x2="2292.5" y2="1502.0" stroke="#000" stroke-width="1.2"/>
<line x1="2316.7" y1="1497.2" x2="2316.7" y2="1502.0" stroke="#000" stroke-width="1.2"/>
<line x1="2340" y1="1497.2" x2="2340" y2="1502.0" stroke="#000" stroke-width="1.2"/>
<line x1="2364.6" y1="1497.2" x2="2364.6" y2="1502.0" stroke="#000" stroke-width="1.2"/>
<line x1="2388.5" y1="1497.2" x2="2388.5" y2="1502.0" stroke="#000" stroke-width="1.2"/>
<line x1="31.6" y1="98.1" x2="2412.5" y2="98.1" stroke="#000" stroke-width="1.35" stroke-linecap="square"/>
<line x1="31.6" y1="1203.35" x2="2412.5" y2="1203.35" stroke="#000" stroke-width="1.35" stroke-linecap="square"/>
<line x1="31.6" y1="1437.2" x2="924.3" y2="1437.2" stroke="#000" stroke-width="1.35" stroke-linecap="square"/>
<line x1="924.3" y1="1502.0" x2="2412.5" y2="1502.0" stroke="#000" stroke-width="1.35" stroke-linecap="square"/>
<line x1="1389.5" y1="943.3" x2="1649.4" y2="943.3" stroke="#000" stroke-width="1.35" stroke-linecap="square"/>
<line x1="2192.5" y1="1021.9" x2="2412.5" y2="1021.9" stroke="#000" stroke-width="1.35" stroke-linecap="square"/>
<line x1="31.6" y1="98.1" x2="31.6" y2="1437.2" stroke="#000" stroke-width="1.35" stroke-linecap="square"/>
<line x1="1301.7" y1="98.1" x2="1301.7" y2="1203.35" stroke="#000" stroke-width="1.35" stroke-linecap="square"/>
<line x1="1389.5" y1="98.1" x2="1389.5" y2="1203.35" stroke="#000" stroke-width="1.35" stroke-linecap="square"/>
<line x1="2412.5" y1="98.1" x2="2412.5" y2="1502.0" stroke="#000" stroke-width="1.35" stroke-linecap="square"/>
<line x1="924.3" y1="1203.35" x2="924.3" y2="1502.0" stroke="#000" stroke-width="1.35" stroke-linecap="square"/>
<line x1="1254.3" y1="1203.35" x2="1254.3" y2="1502.0" stroke="#000" stroke-width="1.9" stroke-linecap="square"/>
<line x1="1837.6" y1="1203.35" x2="1837.6" y2="1502.0" stroke="#000" stroke-width="1.35" stroke-linecap="square"/>
<line x1="1980.4" y1="1203.35" x2="1980.4" y2="1502.0" stroke="#000" stroke-width="1.35" stroke-linecap="square"/>
<line x1="2124.4" y1="1203.35" x2="2124.4" y2="1502.0" stroke="#000" stroke-width="1.35" stroke-linecap="square"/>
<line x1="2269.6" y1="1203.35" x2="2269.6" y2="1502.0" stroke="#000" stroke-width="1.35" stroke-linecap="square"/>
<line x1="1649.4" y1="943.3" x2="1649.4" y2="1203.35" stroke="#000" stroke-width="1.35" stroke-linecap="square"/>
<line x1="2192.5" y1="1021.9" x2="2192.5" y2="1203.35" stroke="#000" stroke-width="1.35" stroke-linecap="square"/>
</svg>
</body></html>
